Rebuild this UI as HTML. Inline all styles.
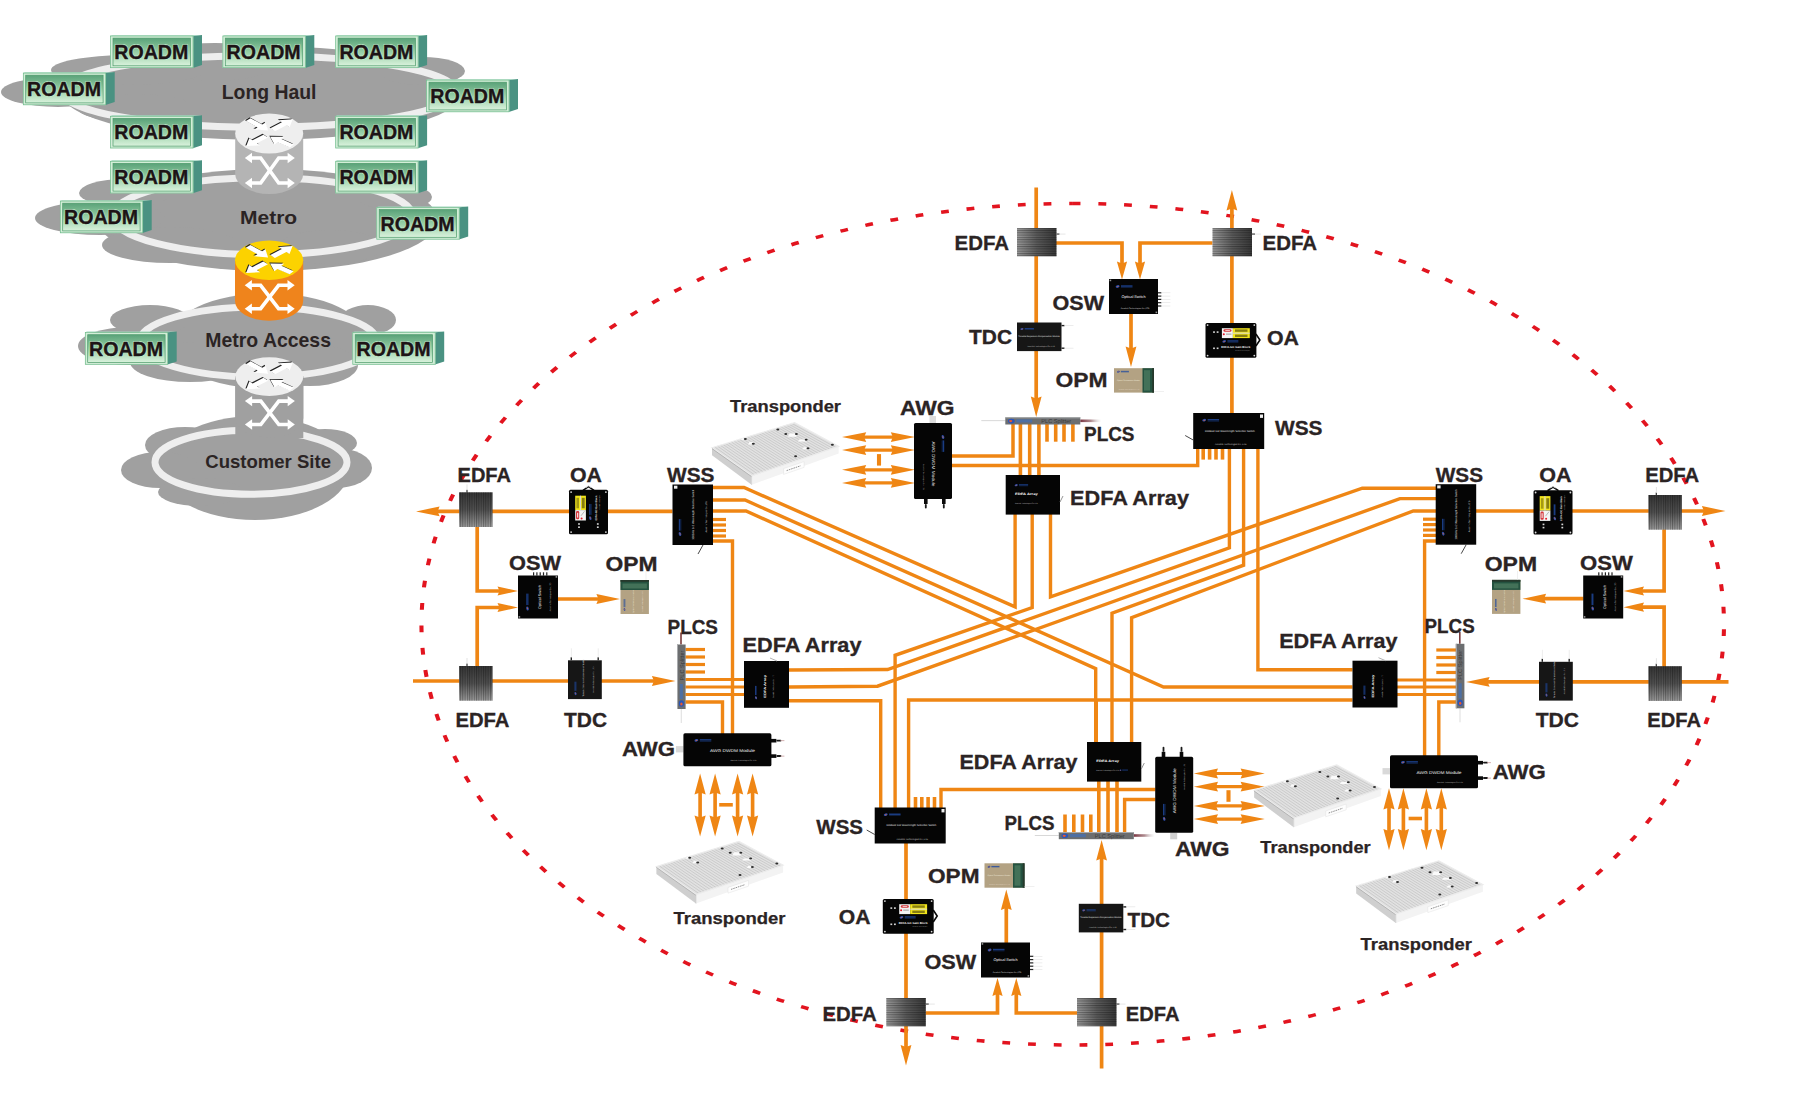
<!DOCTYPE html>
<html><head><meta charset="utf-8"><title>ROADM network diagram</title>
<style>
html,body{margin:0;padding:0;background:#fff;}
body{width:1800px;height:1095px;overflow:hidden;}
svg{display:block;font-family:"Liberation Sans","DejaVu Sans",sans-serif;}
</style></head><body>
<svg width="1800" height="1095" viewBox="0 0 1800 1095">
<rect width="1800" height="1095" fill="#fff"/>

<defs>
<linearGradient id="gR" x1="0" y1="0" x2="0" y2="1"><stop offset="0" stop-color="#5aa279"/><stop offset="0.45" stop-color="#8fcaa0"/><stop offset="1" stop-color="#d9f2dc"/></linearGradient>
<linearGradient id="gEv" x1="0" y1="0" x2="0" y2="1"><stop offset="0" stop-color="#363636"/><stop offset="0.5" stop-color="#525252"/><stop offset="1" stop-color="#9c9c9c"/></linearGradient>
<linearGradient id="gEh" x1="0" y1="0" x2="1" y2="0"><stop offset="0" stop-color="#9a9a9a"/><stop offset="0.5" stop-color="#5c5c5c"/><stop offset="1" stop-color="#383838"/></linearGradient>
<pattern id="pV" width="2.3" height="4" patternUnits="userSpaceOnUse"><rect width="1" height="4" fill="#000" opacity="0.3"/></pattern>
<pattern id="pH" width="4" height="2.3" patternUnits="userSpaceOnUse"><rect width="4" height="1" fill="#000" opacity="0.3"/></pattern>
<linearGradient id="gCylG" x1="0" y1="0" x2="1" y2="0"><stop offset="0" stop-color="#b0b0b0"/><stop offset="0.5" stop-color="#bcbcbc"/><stop offset="1" stop-color="#aaaaaa"/></linearGradient>
<linearGradient id="gTrTop" x1="0" y1="0" x2="1" y2="1"><stop offset="0" stop-color="#f1f1f1"/><stop offset="1" stop-color="#d9d9d9"/></linearGradient>
<pattern id="pTr" width="3.2" height="3.2" patternUnits="userSpaceOnUse" patternTransform="skewX(-55) rotate(-16)"><path d="M0 0H3.2M0 0V3.2" stroke="#bdbdbd" stroke-width="0.5" fill="none"/></pattern>
<linearGradient id="gFib" x1="0" y1="0" x2="1" y2="0"><stop offset="0" stop-color="#7a3340"/><stop offset="0.5" stop-color="#8d5a60" stop-opacity="0.7"/><stop offset="1" stop-color="#bbb" stop-opacity="0"/></linearGradient>
</defs>

<g id="clouds">
<ellipse cx="262" cy="93" rx="200" ry="47" fill="#a0a0a0" />
<ellipse cx="215" cy="62" rx="62" ry="19" fill="#a0a0a0" />
<ellipse cx="58" cy="92" rx="57" ry="15" fill="#a0a0a0" />
<ellipse cx="128" cy="70" rx="77" ry="15" fill="#a0a0a0" />
<ellipse cx="422" cy="71" rx="43" ry="14" fill="#a0a0a0" />
<ellipse cx="135" cy="108" rx="58" ry="14" fill="#a0a0a0" />
<ellipse cx="259" cy="91.5" rx="197" ry="35.8" fill="none" stroke="#eeeeee" stroke-width="7"/>
<ellipse cx="268" cy="220" rx="170" ry="51" fill="#a0a0a0" />
<ellipse cx="395" cy="197" rx="37" ry="13" fill="#a0a0a0" />
<ellipse cx="100" cy="218" rx="65" ry="17" fill="#a0a0a0" />
<ellipse cx="125" cy="193" rx="46" ry="14" fill="#a0a0a0" />
<ellipse cx="170" cy="245" rx="68" ry="18" fill="#a0a0a0" />
<ellipse cx="330" cy="247" rx="52" ry="17" fill="#a0a0a0" />
<ellipse cx="262.7" cy="216.2" rx="149.8" ry="38.5" fill="none" stroke="#eeeeee" stroke-width="7"/>
<ellipse cx="268" cy="341" rx="100" ry="48" fill="#a0a0a0" />
<ellipse cx="130" cy="346" rx="52" ry="19" fill="#a0a0a0" />
<ellipse cx="150" cy="320" rx="40" ry="15" fill="#a0a0a0" />
<ellipse cx="368" cy="320" rx="28" ry="15" fill="#a0a0a0" />
<ellipse cx="390" cy="348" rx="45" ry="16" fill="#a0a0a0" />
<ellipse cx="190" cy="362" rx="60" ry="20" fill="#a0a0a0" />
<ellipse cx="310" cy="365" rx="48" ry="21" fill="#a0a0a0" />
<ellipse cx="258.3" cy="342" rx="119" ry="35" fill="none" stroke="#eeeeee" stroke-width="7"/>
<ellipse cx="255" cy="468" rx="95" ry="52" fill="#a0a0a0" />
<ellipse cx="185" cy="445" rx="40" ry="18" fill="#a0a0a0" />
<ellipse cx="160" cy="470" rx="39" ry="18" fill="#a0a0a0" />
<ellipse cx="335" cy="468" rx="37" ry="20" fill="#a0a0a0" />
<ellipse cx="325" cy="443" rx="32" ry="14" fill="#a0a0a0" />
<ellipse cx="200" cy="492" rx="42" ry="14" fill="#a0a0a0" />
<ellipse cx="251" cy="462.3" rx="96" ry="32" fill="none" stroke="#eeeeee" stroke-width="7"/>
</g>
<path d="M235.2,133.5 V174 A34,19.9 0 0 0 303.2,174 V133.5 Z" fill="#b4b4b4"/>
<ellipse cx="269.2" cy="133.5" rx="34" ry="19.9" fill="#eeeeee"/>
<g fill="none" stroke="#fff" stroke-width="3.6" stroke-linejoin="miter"><path d="M251.2,158.0 H260.7 L278.7,183.0 H288.2"/><path d="M251.2,183.0 H260.7 L278.7,158.0 H288.2"/></g>
<polygon points="244.79999999999998,158.0 251.99999999999997,152.8 251.99999999999997,163.2" fill="#fff"/>
<polygon points="244.79999999999998,183.0 251.99999999999997,177.8 251.99999999999997,188.2" fill="#fff"/>
<polygon points="294.8,158.0 287.6,152.8 287.6,163.2" fill="#fff"/>
<polygon points="294.8,183.0 287.6,177.8 287.6,188.2" fill="#fff"/>
<g transform="translate(269.2 133.5) scale(1 0.58)">
<polygon points="-23.3,-21.5 -11.7,-10.5 -15.0,-7.0 -1.0,-5.0 -3.7,-18.9 -7.0,-15.4 -18.7,-26.5" fill="#222" transform="translate(-0.9 -1.5)"/>
<polygon points="5.8,-4.0 17.2,-14.3 20.4,-10.7 23.5,-24.5 9.5,-22.9 12.7,-19.3 1.2,-9.0" fill="#222" transform="translate(-0.9 -1.5)"/>
<polygon points="-5.8,2.0 -16.7,11.8 -19.9,8.2 -23.0,22.0 -9.0,20.4 -12.2,16.8 -1.2,7.0" fill="#222" transform="translate(-0.9 -1.5)"/>
<polygon points="24.5,18.8 12.3,9.6 15.1,5.8 1.0,5.5 5.3,18.9 8.2,15.1 20.5,24.2" fill="#222" transform="translate(-0.9 -1.5)"/>
<polygon points="-23.3,-21.5 -11.7,-10.5 -15.0,-7.0 -1.0,-5.0 -3.7,-18.9 -7.0,-15.4 -18.7,-26.5" fill="#fff"/>
<polygon points="5.8,-4.0 17.2,-14.3 20.4,-10.7 23.5,-24.5 9.5,-22.9 12.7,-19.3 1.2,-9.0" fill="#fff"/>
<polygon points="-5.8,2.0 -16.7,11.8 -19.9,8.2 -23.0,22.0 -9.0,20.4 -12.2,16.8 -1.2,7.0" fill="#fff"/>
<polygon points="24.5,18.8 12.3,9.6 15.1,5.8 1.0,5.5 5.3,18.9 8.2,15.1 20.5,24.2" fill="#fff"/>
</g>
<path d="M235.00000000000003,260.3 V301 A34.1,19.7 0 0 0 303.20000000000005,301 V260.3 Z" fill="#ef841c"/>
<ellipse cx="269.1" cy="260.3" rx="34.1" ry="19.7" fill="#fcd200"/>
<g fill="none" stroke="#fff" stroke-width="3.6" stroke-linejoin="miter"><path d="M251.10000000000002,285.3 H260.6 L278.6,308.7 H288.1"/><path d="M251.10000000000002,308.7 H260.6 L278.6,285.3 H288.1"/></g>
<polygon points="244.70000000000002,285.3 251.9,280.1 251.9,290.5" fill="#fff"/>
<polygon points="244.70000000000002,308.7 251.9,303.5 251.9,313.9" fill="#fff"/>
<polygon points="294.70000000000005,285.3 287.50000000000006,280.1 287.50000000000006,290.5" fill="#fff"/>
<polygon points="294.70000000000005,308.7 287.50000000000006,303.5 287.50000000000006,313.9" fill="#fff"/>
<g transform="translate(269.1 260.3) scale(1 0.58)">
<polygon points="-23.3,-21.5 -11.7,-10.5 -15.0,-7.0 -1.0,-5.0 -3.7,-18.9 -7.0,-15.4 -18.7,-26.5" fill="#222" transform="translate(-0.9 -1.5)"/>
<polygon points="5.8,-4.0 17.2,-14.3 20.4,-10.7 23.5,-24.5 9.5,-22.9 12.7,-19.3 1.2,-9.0" fill="#222" transform="translate(-0.9 -1.5)"/>
<polygon points="-5.8,2.0 -16.7,11.8 -19.9,8.2 -23.0,22.0 -9.0,20.4 -12.2,16.8 -1.2,7.0" fill="#222" transform="translate(-0.9 -1.5)"/>
<polygon points="24.5,18.8 12.3,9.6 15.1,5.8 1.0,5.5 5.3,18.9 8.2,15.1 20.5,24.2" fill="#222" transform="translate(-0.9 -1.5)"/>
<polygon points="-23.3,-21.5 -11.7,-10.5 -15.0,-7.0 -1.0,-5.0 -3.7,-18.9 -7.0,-15.4 -18.7,-26.5" fill="#fff"/>
<polygon points="5.8,-4.0 17.2,-14.3 20.4,-10.7 23.5,-24.5 9.5,-22.9 12.7,-19.3 1.2,-9.0" fill="#fff"/>
<polygon points="-5.8,2.0 -16.7,11.8 -19.9,8.2 -23.0,22.0 -9.0,20.4 -12.2,16.8 -1.2,7.0" fill="#fff"/>
<polygon points="24.5,18.8 12.3,9.6 15.1,5.8 1.0,5.5 5.3,18.9 8.2,15.1 20.5,24.2" fill="#fff"/>
</g>
<rect x="235.3" y="376" width="68" height="62" fill="#a0a0a0"/>
<path d="M235.3,376.6 V418 A34,19.4 0 0 0 303.3,418 V376.6 Z" fill="#a0a0a0"/>
<ellipse cx="269.3" cy="376.6" rx="34" ry="19.4" fill="#eeeeee"/>
<g fill="none" stroke="#fff" stroke-width="3.6" stroke-linejoin="miter"><path d="M251.3,401.1 H260.8 L278.8,424.5 H288.3"/><path d="M251.3,424.5 H260.8 L278.8,401.1 H288.3"/></g>
<polygon points="244.9,401.1 252.1,395.90000000000003 252.1,406.3" fill="#fff"/>
<polygon points="244.9,424.5 252.1,419.3 252.1,429.7" fill="#fff"/>
<polygon points="294.90000000000003,401.1 287.70000000000005,395.90000000000003 287.70000000000005,406.3" fill="#fff"/>
<polygon points="294.90000000000003,424.5 287.70000000000005,419.3 287.70000000000005,429.7" fill="#fff"/>
<g transform="translate(269.3 376.6) scale(1 0.58)">
<polygon points="-23.3,-21.5 -11.7,-10.5 -15.0,-7.0 -1.0,-5.0 -3.7,-18.9 -7.0,-15.4 -18.7,-26.5" fill="#222" transform="translate(-0.9 -1.5)"/>
<polygon points="5.8,-4.0 17.2,-14.3 20.4,-10.7 23.5,-24.5 9.5,-22.9 12.7,-19.3 1.2,-9.0" fill="#222" transform="translate(-0.9 -1.5)"/>
<polygon points="-5.8,2.0 -16.7,11.8 -19.9,8.2 -23.0,22.0 -9.0,20.4 -12.2,16.8 -1.2,7.0" fill="#222" transform="translate(-0.9 -1.5)"/>
<polygon points="24.5,18.8 12.3,9.6 15.1,5.8 1.0,5.5 5.3,18.9 8.2,15.1 20.5,24.2" fill="#222" transform="translate(-0.9 -1.5)"/>
<polygon points="-23.3,-21.5 -11.7,-10.5 -15.0,-7.0 -1.0,-5.0 -3.7,-18.9 -7.0,-15.4 -18.7,-26.5" fill="#fff"/>
<polygon points="5.8,-4.0 17.2,-14.3 20.4,-10.7 23.5,-24.5 9.5,-22.9 12.7,-19.3 1.2,-9.0" fill="#fff"/>
<polygon points="-5.8,2.0 -16.7,11.8 -19.9,8.2 -23.0,22.0 -9.0,20.4 -12.2,16.8 -1.2,7.0" fill="#fff"/>
<polygon points="24.5,18.8 12.3,9.6 15.1,5.8 1.0,5.5 5.3,18.9 8.2,15.1 20.5,24.2" fill="#fff"/>
</g>
<polygon points="192.8,35.7 202.0,34.900000000000006 202.0,65.0 192.8,68.0" fill="#4a9282"/>
<polygon points="110.3,35.7 112.3,34.900000000000006 202.0,34.900000000000006 193.3,35.7" fill="#9fd6bd"/>
<rect x="110.3" y="35.7" width="83" height="32.3" fill="#d3eed8"/>
<rect x="110.6" y="36.0" width="82.4" height="31.699999999999996" fill="none" stroke="#6fba8c" stroke-width="0.7"/>
<rect x="113.0" y="38.1" width="77.4" height="27.699999999999996" fill="url(#gR)" stroke="#4d9a6a" stroke-width="0.7"/>
<text x="114.3" y="59.1" font-size="20.5" font-weight="bold" fill="#c4f0cf" textLength="74" lengthAdjust="spacingAndGlyphs" stroke="#c4f0cf" stroke-width="1.8" stroke-linejoin="round" opacity="0.85">ROADM</text>
<text x="114.3" y="59.1" font-size="20.5" font-weight="bold" fill="#1d1416" stroke="#1d1416" stroke-width="0.45" textLength="74" lengthAdjust="spacingAndGlyphs">ROADM</text>
<polygon points="305.1,35.7 314.3,34.900000000000006 314.3,65.0 305.1,68.0" fill="#4a9282"/>
<polygon points="222.6,35.7 224.6,34.900000000000006 314.3,34.900000000000006 305.6,35.7" fill="#9fd6bd"/>
<rect x="222.6" y="35.7" width="83" height="32.3" fill="#d3eed8"/>
<rect x="222.9" y="36.0" width="82.4" height="31.699999999999996" fill="none" stroke="#6fba8c" stroke-width="0.7"/>
<rect x="225.29999999999998" y="38.1" width="77.4" height="27.699999999999996" fill="url(#gR)" stroke="#4d9a6a" stroke-width="0.7"/>
<text x="226.6" y="59.1" font-size="20.5" font-weight="bold" fill="#c4f0cf" textLength="74" lengthAdjust="spacingAndGlyphs" stroke="#c4f0cf" stroke-width="1.8" stroke-linejoin="round" opacity="0.85">ROADM</text>
<text x="226.6" y="59.1" font-size="20.5" font-weight="bold" fill="#1d1416" stroke="#1d1416" stroke-width="0.45" textLength="74" lengthAdjust="spacingAndGlyphs">ROADM</text>
<polygon points="417.9,35.7 427.09999999999997,34.900000000000006 427.09999999999997,65.0 417.9,68.0" fill="#4a9282"/>
<polygon points="335.4,35.7 337.4,34.900000000000006 427.09999999999997,34.900000000000006 418.4,35.7" fill="#9fd6bd"/>
<rect x="335.4" y="35.7" width="83" height="32.3" fill="#d3eed8"/>
<rect x="335.7" y="36.0" width="82.4" height="31.699999999999996" fill="none" stroke="#6fba8c" stroke-width="0.7"/>
<rect x="338.09999999999997" y="38.1" width="77.4" height="27.699999999999996" fill="url(#gR)" stroke="#4d9a6a" stroke-width="0.7"/>
<text x="339.4" y="59.1" font-size="20.5" font-weight="bold" fill="#c4f0cf" textLength="74" lengthAdjust="spacingAndGlyphs" stroke="#c4f0cf" stroke-width="1.8" stroke-linejoin="round" opacity="0.85">ROADM</text>
<text x="339.4" y="59.1" font-size="20.5" font-weight="bold" fill="#1d1416" stroke="#1d1416" stroke-width="0.45" textLength="74" lengthAdjust="spacingAndGlyphs">ROADM</text>
<polygon points="105.5,72.8 114.7,72.0 114.7,102.1 105.5,105.1" fill="#4a9282"/>
<polygon points="23,72.8 25,72.0 114.7,72.0 106,72.8" fill="#9fd6bd"/>
<rect x="23" y="72.8" width="83" height="32.3" fill="#d3eed8"/>
<rect x="23.3" y="73.1" width="82.4" height="31.699999999999996" fill="none" stroke="#6fba8c" stroke-width="0.7"/>
<rect x="25.7" y="75.2" width="77.4" height="27.699999999999996" fill="url(#gR)" stroke="#4d9a6a" stroke-width="0.7"/>
<text x="27" y="96.19999999999999" font-size="20.5" font-weight="bold" fill="#c4f0cf" textLength="74" lengthAdjust="spacingAndGlyphs" stroke="#c4f0cf" stroke-width="1.8" stroke-linejoin="round" opacity="0.85">ROADM</text>
<text x="27" y="96.19999999999999" font-size="20.5" font-weight="bold" fill="#1d1416" stroke="#1d1416" stroke-width="0.45" textLength="74" lengthAdjust="spacingAndGlyphs">ROADM</text>
<polygon points="508.8,79.8 518.0,79.0 518.0,109.1 508.8,112.1" fill="#4a9282"/>
<polygon points="426.3,79.8 428.3,79.0 518.0,79.0 509.3,79.8" fill="#9fd6bd"/>
<rect x="426.3" y="79.8" width="83" height="32.3" fill="#d3eed8"/>
<rect x="426.6" y="80.1" width="82.4" height="31.699999999999996" fill="none" stroke="#6fba8c" stroke-width="0.7"/>
<rect x="429.0" y="82.2" width="77.4" height="27.699999999999996" fill="url(#gR)" stroke="#4d9a6a" stroke-width="0.7"/>
<text x="430.3" y="103.19999999999999" font-size="20.5" font-weight="bold" fill="#c4f0cf" textLength="74" lengthAdjust="spacingAndGlyphs" stroke="#c4f0cf" stroke-width="1.8" stroke-linejoin="round" opacity="0.85">ROADM</text>
<text x="430.3" y="103.19999999999999" font-size="20.5" font-weight="bold" fill="#1d1416" stroke="#1d1416" stroke-width="0.45" textLength="74" lengthAdjust="spacingAndGlyphs">ROADM</text>
<polygon points="192.8,116 202.0,115.2 202.0,145.3 192.8,148.3" fill="#4a9282"/>
<polygon points="110.3,116 112.3,115.2 202.0,115.2 193.3,116" fill="#9fd6bd"/>
<rect x="110.3" y="116" width="83" height="32.3" fill="#d3eed8"/>
<rect x="110.6" y="116.3" width="82.4" height="31.699999999999996" fill="none" stroke="#6fba8c" stroke-width="0.7"/>
<rect x="113.0" y="118.4" width="77.4" height="27.699999999999996" fill="url(#gR)" stroke="#4d9a6a" stroke-width="0.7"/>
<text x="114.3" y="139.4" font-size="20.5" font-weight="bold" fill="#c4f0cf" textLength="74" lengthAdjust="spacingAndGlyphs" stroke="#c4f0cf" stroke-width="1.8" stroke-linejoin="round" opacity="0.85">ROADM</text>
<text x="114.3" y="139.4" font-size="20.5" font-weight="bold" fill="#1d1416" stroke="#1d1416" stroke-width="0.45" textLength="74" lengthAdjust="spacingAndGlyphs">ROADM</text>
<polygon points="417.9,116 427.09999999999997,115.2 427.09999999999997,145.3 417.9,148.3" fill="#4a9282"/>
<polygon points="335.4,116 337.4,115.2 427.09999999999997,115.2 418.4,116" fill="#9fd6bd"/>
<rect x="335.4" y="116" width="83" height="32.3" fill="#d3eed8"/>
<rect x="335.7" y="116.3" width="82.4" height="31.699999999999996" fill="none" stroke="#6fba8c" stroke-width="0.7"/>
<rect x="338.09999999999997" y="118.4" width="77.4" height="27.699999999999996" fill="url(#gR)" stroke="#4d9a6a" stroke-width="0.7"/>
<text x="339.4" y="139.4" font-size="20.5" font-weight="bold" fill="#c4f0cf" textLength="74" lengthAdjust="spacingAndGlyphs" stroke="#c4f0cf" stroke-width="1.8" stroke-linejoin="round" opacity="0.85">ROADM</text>
<text x="339.4" y="139.4" font-size="20.5" font-weight="bold" fill="#1d1416" stroke="#1d1416" stroke-width="0.45" textLength="74" lengthAdjust="spacingAndGlyphs">ROADM</text>
<polygon points="192.8,161 202.0,160.2 202.0,190.3 192.8,193.3" fill="#4a9282"/>
<polygon points="110.3,161 112.3,160.2 202.0,160.2 193.3,161" fill="#9fd6bd"/>
<rect x="110.3" y="161" width="83" height="32.3" fill="#d3eed8"/>
<rect x="110.6" y="161.3" width="82.4" height="31.699999999999996" fill="none" stroke="#6fba8c" stroke-width="0.7"/>
<rect x="113.0" y="163.4" width="77.4" height="27.699999999999996" fill="url(#gR)" stroke="#4d9a6a" stroke-width="0.7"/>
<text x="114.3" y="184.4" font-size="20.5" font-weight="bold" fill="#c4f0cf" textLength="74" lengthAdjust="spacingAndGlyphs" stroke="#c4f0cf" stroke-width="1.8" stroke-linejoin="round" opacity="0.85">ROADM</text>
<text x="114.3" y="184.4" font-size="20.5" font-weight="bold" fill="#1d1416" stroke="#1d1416" stroke-width="0.45" textLength="74" lengthAdjust="spacingAndGlyphs">ROADM</text>
<polygon points="417.9,161 427.09999999999997,160.2 427.09999999999997,190.3 417.9,193.3" fill="#4a9282"/>
<polygon points="335.4,161 337.4,160.2 427.09999999999997,160.2 418.4,161" fill="#9fd6bd"/>
<rect x="335.4" y="161" width="83" height="32.3" fill="#d3eed8"/>
<rect x="335.7" y="161.3" width="82.4" height="31.699999999999996" fill="none" stroke="#6fba8c" stroke-width="0.7"/>
<rect x="338.09999999999997" y="163.4" width="77.4" height="27.699999999999996" fill="url(#gR)" stroke="#4d9a6a" stroke-width="0.7"/>
<text x="339.4" y="184.4" font-size="20.5" font-weight="bold" fill="#c4f0cf" textLength="74" lengthAdjust="spacingAndGlyphs" stroke="#c4f0cf" stroke-width="1.8" stroke-linejoin="round" opacity="0.85">ROADM</text>
<text x="339.4" y="184.4" font-size="20.5" font-weight="bold" fill="#1d1416" stroke="#1d1416" stroke-width="0.45" textLength="74" lengthAdjust="spacingAndGlyphs">ROADM</text>
<polygon points="142.5,200.8 151.7,200.0 151.7,230.10000000000002 142.5,233.10000000000002" fill="#4a9282"/>
<polygon points="60,200.8 62,200.0 151.7,200.0 143,200.8" fill="#9fd6bd"/>
<rect x="60" y="200.8" width="83" height="32.3" fill="#d3eed8"/>
<rect x="60.3" y="201.10000000000002" width="82.4" height="31.699999999999996" fill="none" stroke="#6fba8c" stroke-width="0.7"/>
<rect x="62.7" y="203.20000000000002" width="77.4" height="27.699999999999996" fill="url(#gR)" stroke="#4d9a6a" stroke-width="0.7"/>
<text x="64" y="224.20000000000002" font-size="20.5" font-weight="bold" fill="#c4f0cf" textLength="74" lengthAdjust="spacingAndGlyphs" stroke="#c4f0cf" stroke-width="1.8" stroke-linejoin="round" opacity="0.85">ROADM</text>
<text x="64" y="224.20000000000002" font-size="20.5" font-weight="bold" fill="#1d1416" stroke="#1d1416" stroke-width="0.45" textLength="74" lengthAdjust="spacingAndGlyphs">ROADM</text>
<polygon points="459.0,207.2 468.2,206.39999999999998 468.2,236.5 459.0,239.5" fill="#4a9282"/>
<polygon points="376.5,207.2 378.5,206.39999999999998 468.2,206.39999999999998 459.5,207.2" fill="#9fd6bd"/>
<rect x="376.5" y="207.2" width="83" height="32.3" fill="#d3eed8"/>
<rect x="376.8" y="207.5" width="82.4" height="31.699999999999996" fill="none" stroke="#6fba8c" stroke-width="0.7"/>
<rect x="379.2" y="209.6" width="77.4" height="27.699999999999996" fill="url(#gR)" stroke="#4d9a6a" stroke-width="0.7"/>
<text x="380.5" y="230.6" font-size="20.5" font-weight="bold" fill="#c4f0cf" textLength="74" lengthAdjust="spacingAndGlyphs" stroke="#c4f0cf" stroke-width="1.8" stroke-linejoin="round" opacity="0.85">ROADM</text>
<text x="380.5" y="230.6" font-size="20.5" font-weight="bold" fill="#1d1416" stroke="#1d1416" stroke-width="0.45" textLength="74" lengthAdjust="spacingAndGlyphs">ROADM</text>
<polygon points="167.5,332.3 176.7,331.5 176.7,361.6 167.5,364.6" fill="#4a9282"/>
<polygon points="85,332.3 87,331.5 176.7,331.5 168,332.3" fill="#9fd6bd"/>
<rect x="85" y="332.3" width="83" height="32.3" fill="#d3eed8"/>
<rect x="85.3" y="332.6" width="82.4" height="31.699999999999996" fill="none" stroke="#6fba8c" stroke-width="0.7"/>
<rect x="87.7" y="334.7" width="77.4" height="27.699999999999996" fill="url(#gR)" stroke="#4d9a6a" stroke-width="0.7"/>
<text x="89" y="355.7" font-size="20.5" font-weight="bold" fill="#c4f0cf" textLength="74" lengthAdjust="spacingAndGlyphs" stroke="#c4f0cf" stroke-width="1.8" stroke-linejoin="round" opacity="0.85">ROADM</text>
<text x="89" y="355.7" font-size="20.5" font-weight="bold" fill="#1d1416" stroke="#1d1416" stroke-width="0.45" textLength="74" lengthAdjust="spacingAndGlyphs">ROADM</text>
<polygon points="435.0,332.3 444.2,331.5 444.2,361.6 435.0,364.6" fill="#4a9282"/>
<polygon points="352.5,332.3 354.5,331.5 444.2,331.5 435.5,332.3" fill="#9fd6bd"/>
<rect x="352.5" y="332.3" width="83" height="32.3" fill="#d3eed8"/>
<rect x="352.8" y="332.6" width="82.4" height="31.699999999999996" fill="none" stroke="#6fba8c" stroke-width="0.7"/>
<rect x="355.2" y="334.7" width="77.4" height="27.699999999999996" fill="url(#gR)" stroke="#4d9a6a" stroke-width="0.7"/>
<text x="356.5" y="355.7" font-size="20.5" font-weight="bold" fill="#c4f0cf" textLength="74" lengthAdjust="spacingAndGlyphs" stroke="#c4f0cf" stroke-width="1.8" stroke-linejoin="round" opacity="0.85">ROADM</text>
<text x="356.5" y="355.7" font-size="20.5" font-weight="bold" fill="#1d1416" stroke="#1d1416" stroke-width="0.45" textLength="74" lengthAdjust="spacingAndGlyphs">ROADM</text>
<text x="221.7" y="99" font-size="20.5" font-weight="bold" fill="#2b2424" text-anchor="start" textLength="94.8" lengthAdjust="spacingAndGlyphs" >Long Haul</text>
<text x="240" y="223.8" font-size="19.2" font-weight="bold" fill="#2b2424" text-anchor="start" textLength="57.2" lengthAdjust="spacingAndGlyphs" >Metro</text>
<text x="205.3" y="347" font-size="19.3" font-weight="bold" fill="#2b2424" text-anchor="start" textLength="125.7" lengthAdjust="spacingAndGlyphs" >Metro Access</text>
<text x="205.3" y="467.8" font-size="18.5" font-weight="bold" fill="#2b2424" text-anchor="start" textLength="125.7" lengthAdjust="spacingAndGlyphs" >Customer Site</text>
<g transform="translate(1072.75 624.25) scale(1.147 1)"><path d="M0,-420.75 A567.8,420.75 0 1 1 -0.05,-420.75" fill="none" stroke="#e2141f" stroke-width="3.55" stroke-dasharray="6.8 15.64"/></g>
<g id="lines">
<polyline points="672.5,511.4 431.0,511.4" fill="none" stroke="#ef8614" stroke-width="3.7" stroke-linejoin="miter"/>
<polygon points="416.0,511.4 439.6,506.5 437.6,511.4 439.6,516.3" fill="#ef8614"/>
<polyline points="413,681 660.5,681.0" fill="none" stroke="#ef8614" stroke-width="3.7" stroke-linejoin="miter"/>
<polygon points="675.5,681.0 651.9,685.9 653.9,681.0 651.9,676.1" fill="#ef8614"/>
<polyline points="477.2,527 477.2,591 503.0,591.0" fill="none" stroke="#ef8614" stroke-width="3.7" stroke-linejoin="miter"/>
<polygon points="518.0,591.0 497.5,595.6 499.5,591.0 497.5,586.4" fill="#ef8614"/>
<polyline points="477.2,667 477.2,607.5 503.0,607.5" fill="none" stroke="#ef8614" stroke-width="3.7" stroke-linejoin="miter"/>
<polygon points="518.0,607.5 497.5,612.1 499.5,607.5 497.5,602.9" fill="#ef8614"/>
<polyline points="558,599 605.0,599.0" fill="none" stroke="#ef8614" stroke-width="3.7" stroke-linejoin="miter"/>
<polygon points="620.0,599.0 596.4,603.9 598.4,599.0 596.4,594.1" fill="#ef8614"/>
<polyline points="713,487.5 744,487.5 1015.1,606.8 1015.1,514" fill="none" stroke="#ef8614" stroke-width="3.4" stroke-linejoin="miter"/>
<polyline points="713,500 745,500 1163.5,687 1352.5,687" fill="none" stroke="#ef8614" stroke-width="3.4" stroke-linejoin="miter"/>
<polyline points="713,511 746,511 1095.7,668.6 1095.7,742" fill="none" stroke="#ef8614" stroke-width="3.4" stroke-linejoin="miter"/>
<polyline points="713,519.5 726,519.5" fill="none" stroke="#ef8614" stroke-width="3.2" stroke-linejoin="miter"/>
<polyline points="713,525 726,525" fill="none" stroke="#ef8614" stroke-width="3.2" stroke-linejoin="miter"/>
<polyline points="713,530.5 726,530.5" fill="none" stroke="#ef8614" stroke-width="3.2" stroke-linejoin="miter"/>
<polyline points="713,536 726,536" fill="none" stroke="#ef8614" stroke-width="3.2" stroke-linejoin="miter"/>
<polyline points="713,541 732.5,541 732.5,734" fill="none" stroke="#ef8614" stroke-width="3.4" stroke-linejoin="miter"/>
<polyline points="685.5,649.5 705,649.5" fill="none" stroke="#ef8614" stroke-width="3.2" stroke-linejoin="miter"/>
<polyline points="685.5,657 705,657" fill="none" stroke="#ef8614" stroke-width="3.2" stroke-linejoin="miter"/>
<polyline points="685.5,664.5 705,664.5" fill="none" stroke="#ef8614" stroke-width="3.2" stroke-linejoin="miter"/>
<polyline points="685.5,672 705,672" fill="none" stroke="#ef8614" stroke-width="3.2" stroke-linejoin="miter"/>
<polyline points="685.5,679.5 744,679.5" fill="none" stroke="#ef8614" stroke-width="3.2" stroke-linejoin="miter"/>
<polyline points="685.5,687 744,687" fill="none" stroke="#ef8614" stroke-width="3.2" stroke-linejoin="miter"/>
<polyline points="685.5,694.5 744,694.5" fill="none" stroke="#ef8614" stroke-width="3.2" stroke-linejoin="miter"/>
<polyline points="685.5,702 722.5,702 722.5,734" fill="none" stroke="#ef8614" stroke-width="3.4" stroke-linejoin="miter"/>
<polyline points="789,670 887.6,669.5 1229.4,547.9 1229.4,448.7" fill="none" stroke="#ef8614" stroke-width="3.4" stroke-linejoin="miter"/>
<polyline points="789,687 877.5,686.2 1399.9,498.6 1436,498.6" fill="none" stroke="#ef8614" stroke-width="3.4" stroke-linejoin="miter"/>
<polyline points="789,700.8 880.7,700.8 880.7,808" fill="none" stroke="#ef8614" stroke-width="3.4" stroke-linejoin="miter"/>
<polyline points="1036.2,187.5 1036.2,330" fill="none" stroke="#ef8614" stroke-width="3.7" stroke-linejoin="miter"/>
<polyline points="1036.2,345 1036.2,402.0" fill="none" stroke="#ef8614" stroke-width="3.7" stroke-linejoin="miter"/>
<polygon points="1036.2,417.0 1030.8,396.4 1036.2,398.4 1041.6,396.4" fill="#ef8614"/>
<polyline points="1231.9,413 1231.9,205.0" fill="none" stroke="#ef8614" stroke-width="3.7" stroke-linejoin="miter"/>
<polygon points="1231.9,190.0 1237.3,210.6 1231.9,208.6 1226.5,210.6" fill="#ef8614"/>
<polyline points="1056,243 1122,243 1122.0,264.5" fill="none" stroke="#ef8614" stroke-width="3.7" stroke-linejoin="miter"/>
<polygon points="1122.0,279.5 1116.9,261.6 1122.0,263.6 1127.1,261.6" fill="#ef8614"/>
<polyline points="1212.5,243 1140,243 1140.0,264.5" fill="none" stroke="#ef8614" stroke-width="3.7" stroke-linejoin="miter"/>
<polygon points="1140.0,279.5 1134.9,261.6 1140.0,263.6 1145.1,261.6" fill="#ef8614"/>
<polyline points="1131,314 1131.0,352.0" fill="none" stroke="#ef8614" stroke-width="3.7" stroke-linejoin="miter"/>
<polygon points="1131.0,367.0 1125.6,346.4 1131.0,348.4 1136.4,346.4" fill="#ef8614"/>
<polyline points="1013,424 1013,456 952,456" fill="none" stroke="#ef8614" stroke-width="3.5" stroke-linejoin="miter"/>
<polyline points="1020.4,424 1020.4,476" fill="none" stroke="#ef8614" stroke-width="3.6" stroke-linejoin="miter"/>
<polyline points="1029.7,424 1029.7,476" fill="none" stroke="#ef8614" stroke-width="3.6" stroke-linejoin="miter"/>
<polyline points="1038.9,424 1038.9,476" fill="none" stroke="#ef8614" stroke-width="3.6" stroke-linejoin="miter"/>
<polyline points="1047,424 1047,441.7" fill="none" stroke="#ef8614" stroke-width="3.6" stroke-linejoin="miter"/>
<polyline points="1055.7,424 1055.7,441.7" fill="none" stroke="#ef8614" stroke-width="3.6" stroke-linejoin="miter"/>
<polyline points="1064,424 1064,441.7" fill="none" stroke="#ef8614" stroke-width="3.6" stroke-linejoin="miter"/>
<polyline points="1072.9,424 1072.9,441.7" fill="none" stroke="#ef8614" stroke-width="3.6" stroke-linejoin="miter"/>
<polyline points="952,465.5 1197.7,465.5 1197.7,448" fill="none" stroke="#ef8614" stroke-width="3.4" stroke-linejoin="miter"/>
<polyline points="1203.2,448 1203.2,459.6" fill="none" stroke="#ef8614" stroke-width="3.6" stroke-linejoin="miter"/>
<polyline points="1209.6,448 1209.6,459.6" fill="none" stroke="#ef8614" stroke-width="3.6" stroke-linejoin="miter"/>
<polyline points="1216,448 1216,459.6" fill="none" stroke="#ef8614" stroke-width="3.6" stroke-linejoin="miter"/>
<polyline points="1222.5,448 1222.5,459.6" fill="none" stroke="#ef8614" stroke-width="3.6" stroke-linejoin="miter"/>
<polyline points="1032.2,514 1032.2,607.6 895.1,655.3 895.1,808" fill="none" stroke="#ef8614" stroke-width="3.4" stroke-linejoin="miter"/>
<polyline points="1050.5,514 1050.5,596.8 1362.3,488.2 1436,488.2" fill="none" stroke="#ef8614" stroke-width="3.4" stroke-linejoin="miter"/>
<polyline points="1243.6,448 1243.6,565.2 1112,613.2 1112,742" fill="none" stroke="#ef8614" stroke-width="3.4" stroke-linejoin="miter"/>
<polyline points="1257.9,448 1257.9,669.8 1352.5,669.8" fill="none" stroke="#ef8614" stroke-width="3.4" stroke-linejoin="miter"/>
<polyline points="1476,511 1710.5,511.0" fill="none" stroke="#ef8614" stroke-width="3.7" stroke-linejoin="miter"/>
<polygon points="1725.5,511.0 1701.9,515.9 1703.9,511.0 1701.9,506.1" fill="#ef8614"/>
<polyline points="1728.5,681.9 1572,681.9" fill="none" stroke="#ef8614" stroke-width="3.7" stroke-linejoin="miter"/>
<polyline points="1540,681.9 1481.0,681.9" fill="none" stroke="#ef8614" stroke-width="3.7" stroke-linejoin="miter"/>
<polygon points="1466.0,681.9 1489.6,677.0 1487.6,681.9 1489.6,686.8" fill="#ef8614"/>
<polyline points="1664.1,529 1664.1,591 1638.5,591.0" fill="none" stroke="#ef8614" stroke-width="3.7" stroke-linejoin="miter"/>
<polygon points="1623.5,591.0 1644.0,586.4 1642.0,591.0 1644.0,595.6" fill="#ef8614"/>
<polyline points="1664.1,667 1664.1,607.2 1638.5,607.2" fill="none" stroke="#ef8614" stroke-width="3.7" stroke-linejoin="miter"/>
<polygon points="1623.5,607.2 1644.0,602.6 1642.0,607.2 1644.0,611.8" fill="#ef8614"/>
<polyline points="1583.5,598.7 1537.5,598.7" fill="none" stroke="#ef8614" stroke-width="3.7" stroke-linejoin="miter"/>
<polygon points="1522.5,598.7 1546.1,593.8 1544.1,598.7 1546.1,603.6" fill="#ef8614"/>
<polyline points="1436,511 1413.3,511 1131.6,617.7 1131.6,742" fill="none" stroke="#ef8614" stroke-width="3.4" stroke-linejoin="miter"/>
<polyline points="1423,519.2 1436,519.2" fill="none" stroke="#ef8614" stroke-width="3.2" stroke-linejoin="miter"/>
<polyline points="1423,524.6 1436,524.6" fill="none" stroke="#ef8614" stroke-width="3.2" stroke-linejoin="miter"/>
<polyline points="1423,530 1436,530" fill="none" stroke="#ef8614" stroke-width="3.2" stroke-linejoin="miter"/>
<polyline points="1423,535.4 1436,535.4" fill="none" stroke="#ef8614" stroke-width="3.2" stroke-linejoin="miter"/>
<polyline points="1436,541 1424.6,541 1424.6,756" fill="none" stroke="#ef8614" stroke-width="3.4" stroke-linejoin="miter"/>
<polyline points="1436.3,650 1456,650" fill="none" stroke="#ef8614" stroke-width="3.2" stroke-linejoin="miter"/>
<polyline points="1436.3,657.5 1456,657.5" fill="none" stroke="#ef8614" stroke-width="3.2" stroke-linejoin="miter"/>
<polyline points="1436.3,665 1456,665" fill="none" stroke="#ef8614" stroke-width="3.2" stroke-linejoin="miter"/>
<polyline points="1436.3,672.5 1456,672.5" fill="none" stroke="#ef8614" stroke-width="3.2" stroke-linejoin="miter"/>
<polyline points="1397,680 1456,680" fill="none" stroke="#ef8614" stroke-width="3.2" stroke-linejoin="miter"/>
<polyline points="1397,687 1456,687" fill="none" stroke="#ef8614" stroke-width="3.2" stroke-linejoin="miter"/>
<polyline points="1397,694.5 1456,694.5" fill="none" stroke="#ef8614" stroke-width="3.2" stroke-linejoin="miter"/>
<polyline points="1456,702 1438.8,702 1438.8,756" fill="none" stroke="#ef8614" stroke-width="3.4" stroke-linejoin="miter"/>
<polyline points="1352.5,700 908.6,700 908.6,808" fill="none" stroke="#ef8614" stroke-width="3.4" stroke-linejoin="miter"/>
<polyline points="906,843 906.0,1050.5" fill="none" stroke="#ef8614" stroke-width="3.7" stroke-linejoin="miter"/>
<polygon points="906.0,1065.5 900.6,1044.9 906.0,1046.9 911.4,1044.9" fill="#ef8614"/>
<polyline points="1101.6,1068.5 1101.6,932" fill="none" stroke="#ef8614" stroke-width="3.7" stroke-linejoin="miter"/>
<polyline points="1101.6,905 1101.6,855.0" fill="none" stroke="#ef8614" stroke-width="3.7" stroke-linejoin="miter"/>
<polygon points="1101.6,840.0 1107.0,860.6 1101.6,858.6 1096.2,860.6" fill="#ef8614"/>
<polyline points="925.5,1013 997.5,1013 997.5,993.0" fill="none" stroke="#ef8614" stroke-width="3.7" stroke-linejoin="miter"/>
<polygon points="997.5,978.0 1002.6,995.9 997.5,993.9 992.4,995.9" fill="#ef8614"/>
<polyline points="1077,1013 1016.3,1013 1016.3,993.0" fill="none" stroke="#ef8614" stroke-width="3.7" stroke-linejoin="miter"/>
<polygon points="1016.3,978.0 1021.4,995.9 1016.3,993.9 1011.2,995.9" fill="#ef8614"/>
<polyline points="1006.3,943 1006.3,904.5" fill="none" stroke="#ef8614" stroke-width="3.7" stroke-linejoin="miter"/>
<polygon points="1006.3,889.5 1011.7,910.1 1006.3,908.1 1000.9,910.1" fill="#ef8614"/>
<polyline points="915.5,797 915.5,808" fill="none" stroke="#ef8614" stroke-width="3.6" stroke-linejoin="miter"/>
<polyline points="921.8,797 921.8,808" fill="none" stroke="#ef8614" stroke-width="3.6" stroke-linejoin="miter"/>
<polyline points="928.1,797 928.1,808" fill="none" stroke="#ef8614" stroke-width="3.6" stroke-linejoin="miter"/>
<polyline points="934.5,797 934.5,808" fill="none" stroke="#ef8614" stroke-width="3.6" stroke-linejoin="miter"/>
<polyline points="941,808 941,789.5 1155.5,789.5" fill="none" stroke="#ef8614" stroke-width="3.4" stroke-linejoin="miter"/>
<polyline points="1098.8,780 1098.8,832.5" fill="none" stroke="#ef8614" stroke-width="3.6" stroke-linejoin="miter"/>
<polyline points="1108,780 1108,832.5" fill="none" stroke="#ef8614" stroke-width="3.6" stroke-linejoin="miter"/>
<polyline points="1117,780 1117,832.5" fill="none" stroke="#ef8614" stroke-width="3.6" stroke-linejoin="miter"/>
<polyline points="1124.6,832.5 1124.6,799.5 1155.5,799.5" fill="none" stroke="#ef8614" stroke-width="3.4" stroke-linejoin="miter"/>
<polyline points="1065,814.5 1065,832.5" fill="none" stroke="#ef8614" stroke-width="3.6" stroke-linejoin="miter"/>
<polyline points="1073.8,814.5 1073.8,832.5" fill="none" stroke="#ef8614" stroke-width="3.6" stroke-linejoin="miter"/>
<polyline points="1082.5,814.5 1082.5,832.5" fill="none" stroke="#ef8614" stroke-width="3.6" stroke-linejoin="miter"/>
<polyline points="1090.8,814.5 1090.8,832.5" fill="none" stroke="#ef8614" stroke-width="3.6" stroke-linejoin="miter"/>
<polyline points="1096.3,742 1096.3,700" fill="none" stroke="#ef8614" stroke-width="3.4" stroke-linejoin="miter"/>
<polyline points="859.0,437.1 898.0,437.1" fill="none" stroke="#ef8614" stroke-width="3.2" stroke-linejoin="miter"/>
<polygon points="915.0,437.1 890.8,442.0 892.8,437.1 890.8,432.2" fill="#ef8614"/>
<polygon points="842.0,437.1 866.2,432.2 864.2,437.1 866.2,442.0" fill="#ef8614"/>
<polyline points="859.0,450.1 898.0,450.1" fill="none" stroke="#ef8614" stroke-width="3.2" stroke-linejoin="miter"/>
<polygon points="915.0,450.1 890.8,455.0 892.8,450.1 890.8,445.2" fill="#ef8614"/>
<polygon points="842.0,450.1 866.2,445.2 864.2,450.1 866.2,455.0" fill="#ef8614"/>
<polyline points="859.0,469.8 898.0,469.8" fill="none" stroke="#ef8614" stroke-width="3.2" stroke-linejoin="miter"/>
<polygon points="915.0,469.8 890.8,474.7 892.8,469.8 890.8,464.9" fill="#ef8614"/>
<polygon points="842.0,469.8 866.2,464.9 864.2,469.8 866.2,474.7" fill="#ef8614"/>
<polyline points="859.0,482.9 898.0,482.9" fill="none" stroke="#ef8614" stroke-width="3.2" stroke-linejoin="miter"/>
<polygon points="915.0,482.9 890.8,487.8 892.8,482.9 890.8,478.0" fill="#ef8614"/>
<polygon points="842.0,482.9 866.2,478.0 864.2,482.9 866.2,487.8" fill="#ef8614"/>
<polyline points="879,454.1 879,465.6" fill="none" stroke="#ef8614" stroke-width="4.1" stroke-linejoin="miter"/>
<polyline points="700.1,790.4 700.1,819.6" fill="none" stroke="#ef8614" stroke-width="3.65" stroke-linejoin="miter"/>
<polygon points="700.1,836.6 694.5,815.4 700.1,817.4 705.7,815.4" fill="#ef8614"/>
<polygon points="700.1,773.4 705.7,794.6 700.1,792.6 694.5,794.6" fill="#ef8614"/>
<polyline points="715.1,790.4 715.1,819.6" fill="none" stroke="#ef8614" stroke-width="3.65" stroke-linejoin="miter"/>
<polygon points="715.1,836.6 709.5,815.4 715.1,817.4 720.7,815.4" fill="#ef8614"/>
<polygon points="715.1,773.4 720.7,794.6 715.1,792.6 709.5,794.6" fill="#ef8614"/>
<polyline points="737.6,790.4 737.6,819.6" fill="none" stroke="#ef8614" stroke-width="3.65" stroke-linejoin="miter"/>
<polygon points="737.6,836.6 732.0,815.4 737.6,817.4 743.2,815.4" fill="#ef8614"/>
<polygon points="737.6,773.4 743.2,794.6 737.6,792.6 732.0,794.6" fill="#ef8614"/>
<polyline points="752.6,790.4 752.6,819.6" fill="none" stroke="#ef8614" stroke-width="3.65" stroke-linejoin="miter"/>
<polygon points="752.6,836.6 747.0,815.4 752.6,817.4 758.2,815.4" fill="#ef8614"/>
<polygon points="752.6,773.4 758.2,794.6 752.6,792.6 747.0,794.6" fill="#ef8614"/>
<polyline points="719.2,804.8 732.8,804.8" fill="none" stroke="#ef8614" stroke-width="3.6" stroke-linejoin="miter"/>
<polyline points="1210.8,773.5 1247.8,773.5" fill="none" stroke="#ef8614" stroke-width="3.2" stroke-linejoin="miter"/>
<polygon points="1264.8,773.5 1240.6,778.4 1242.6,773.5 1240.6,768.6" fill="#ef8614"/>
<polygon points="1193.8,773.5 1218.0,768.6 1216.0,773.5 1218.0,778.4" fill="#ef8614"/>
<polyline points="1210.8,786.7 1247.8,786.7" fill="none" stroke="#ef8614" stroke-width="3.2" stroke-linejoin="miter"/>
<polygon points="1264.8,786.7 1240.6,791.6 1242.6,786.7 1240.6,781.8" fill="#ef8614"/>
<polygon points="1193.8,786.7 1218.0,781.8 1216.0,786.7 1218.0,791.6" fill="#ef8614"/>
<polyline points="1210.8,805.9 1247.8,805.9" fill="none" stroke="#ef8614" stroke-width="3.2" stroke-linejoin="miter"/>
<polygon points="1264.8,805.9 1240.6,810.8 1242.6,805.9 1240.6,801.0" fill="#ef8614"/>
<polygon points="1193.8,805.9 1218.0,801.0 1216.0,805.9 1218.0,810.8" fill="#ef8614"/>
<polyline points="1210.8,819.1 1247.8,819.1" fill="none" stroke="#ef8614" stroke-width="3.2" stroke-linejoin="miter"/>
<polygon points="1264.8,819.1 1240.6,824.0 1242.6,819.1 1240.6,814.2" fill="#ef8614"/>
<polygon points="1193.8,819.1 1218.0,814.2 1216.0,819.1 1218.0,824.0" fill="#ef8614"/>
<polyline points="1228.5,790.2 1228.5,801.8" fill="none" stroke="#ef8614" stroke-width="4.1" stroke-linejoin="miter"/>
<polyline points="1389.0,805.3 1389.0,833.3" fill="none" stroke="#ef8614" stroke-width="3.65" stroke-linejoin="miter"/>
<polygon points="1389.0,850.3 1383.4,829.1 1389.0,831.1 1394.6,829.1" fill="#ef8614"/>
<polygon points="1389.0,788.3 1394.6,809.5 1389.0,807.5 1383.4,809.5" fill="#ef8614"/>
<polyline points="1403.4,805.3 1403.4,833.3" fill="none" stroke="#ef8614" stroke-width="3.65" stroke-linejoin="miter"/>
<polygon points="1403.4,850.3 1397.8,829.1 1403.4,831.1 1409.0,829.1" fill="#ef8614"/>
<polygon points="1403.4,788.3 1409.0,809.5 1403.4,807.5 1397.8,809.5" fill="#ef8614"/>
<polyline points="1426.4,805.3 1426.4,833.3" fill="none" stroke="#ef8614" stroke-width="3.65" stroke-linejoin="miter"/>
<polygon points="1426.4,850.3 1420.8,829.1 1426.4,831.1 1432.0,829.1" fill="#ef8614"/>
<polygon points="1426.4,788.3 1432.0,809.5 1426.4,807.5 1420.8,809.5" fill="#ef8614"/>
<polyline points="1441.3,805.3 1441.3,833.3" fill="none" stroke="#ef8614" stroke-width="3.65" stroke-linejoin="miter"/>
<polygon points="1441.3,850.3 1435.7,829.1 1441.3,831.1 1446.9,829.1" fill="#ef8614"/>
<polygon points="1441.3,788.3 1446.9,809.5 1441.3,807.5 1435.7,809.5" fill="#ef8614"/>
<polyline points="1408.6,818.5 1422,818.5" fill="none" stroke="#ef8614" stroke-width="3.6" stroke-linejoin="miter"/>
</g>
<g id="devices">
<rect x="459.1" y="492.3" width="33.4" height="34.7" fill="url(#gEv)"/>
<rect x="459.1" y="492.3" width="33.4" height="34.7" fill="url(#pV)"/>
<rect x="466.40000000000003" y="489.8" width="1.2" height="3" fill="#333"/>
<rect x="466.6" y="484.3" width="0.8" height="6" fill="#ddd"/>
<rect x="459.1" y="666" width="33.4" height="34.7" fill="url(#gEv)"/>
<rect x="459.1" y="666" width="33.4" height="34.7" fill="url(#pV)"/>
<rect x="466.40000000000003" y="663.5" width="1.2" height="3" fill="#333"/>
<rect x="466.6" y="658" width="0.8" height="6" fill="#ddd"/>
<rect x="1648.4" y="495" width="33.4" height="34.7" fill="url(#gEv)"/>
<rect x="1648.4" y="495" width="33.4" height="34.7" fill="url(#pV)"/>
<rect x="1655.7" y="492.5" width="1.2" height="3" fill="#333"/>
<rect x="1655.9" y="487" width="0.8" height="6" fill="#ddd"/>
<rect x="1648.4" y="666.2" width="33.4" height="34.7" fill="url(#gEv)"/>
<rect x="1648.4" y="666.2" width="33.4" height="34.7" fill="url(#pV)"/>
<rect x="1655.7" y="663.7" width="1.2" height="3" fill="#333"/>
<rect x="1655.9" y="658.2" width="0.8" height="6" fill="#ddd"/>
<rect x="1017" y="228" width="39.5" height="28.3" fill="url(#gEh)"/>
<rect x="1017" y="228" width="39.5" height="28.3" fill="url(#pH)"/>
<rect x="1056.5" y="233.5" width="3" height="1.1" fill="#333"/>
<rect x="1059.5" y="233.7" width="6" height="0.7" fill="#ddd"/>
<rect x="1212.5" y="228" width="39.5" height="28.3" fill="url(#gEh)"/>
<rect x="1212.5" y="228" width="39.5" height="28.3" fill="url(#pH)"/>
<rect x="1252.0" y="233.5" width="3" height="1.1" fill="#333"/>
<rect x="1255.0" y="233.7" width="6" height="0.7" fill="#ddd"/>
<rect x="886.3" y="998" width="39.5" height="28.3" fill="url(#gEh)"/>
<rect x="886.3" y="998" width="39.5" height="28.3" fill="url(#pH)"/>
<rect x="925.8" y="1003.5" width="3" height="1.1" fill="#333"/>
<rect x="928.8" y="1003.7" width="6" height="0.7" fill="#ddd"/>
<rect x="1077" y="998" width="39.5" height="28.3" fill="url(#gEh)"/>
<rect x="1077" y="998" width="39.5" height="28.3" fill="url(#pH)"/>
<rect x="1116.5" y="1003.5" width="3" height="1.1" fill="#333"/>
<rect x="1119.5" y="1003.7" width="6" height="0.7" fill="#ddd"/>
<rect x="672.5" y="484.5" width="40.5" height="60.5" fill="#050505"/>
<g transform="rotate(-90 680.0 534.0)"><ellipse cx="680.0" cy="534.0" rx="2.0" ry="1.25" fill="#2b4fae" transform="rotate(-18 680.0 534.0)"/><ellipse cx="680.1" cy="534.1" rx="0.9" ry="0.45" fill="#d9623a" transform="rotate(-18 680.0 534.0)"/><rect x="683.4" y="532.8" width="11.5" height="1.5" fill="#1f4aa0" opacity="0.8"/><rect x="683.4" y="534.7" width="11.5" height="0.5" fill="#1f4aa0" opacity="0.7"/></g>
<text x="693.5" y="514.75" font-family="Liberation Sans, sans-serif" text-rendering="geometricPrecision" font-size="2.7" fill="#e8e8e8" text-anchor="middle" font-weight="normal" transform="rotate(-90 693.5 514.75)">100GHz 1x2 Wavelength Selective Switch</text>
<text x="707.0" y="516.75" font-family="Liberation Sans, sans-serif" text-rendering="geometricPrecision" font-size="2.3" fill="#cfcfcf" text-anchor="middle" font-weight="normal" transform="rotate(-90 707.0 516.75)">Accelink Technologies Co.,LTD</text>
<rect x="674.0" y="485.7" width="3.4" height="3" fill="#eee"/>
<path d="M703.0,545.0 l-5,9" stroke="#333" stroke-width="0.9"/>
<rect x="1435.7" y="484.2" width="40.5" height="60.5" fill="#050505"/>
<g transform="rotate(-90 1443.2 533.7)"><ellipse cx="1443.2" cy="533.7" rx="2.0" ry="1.25" fill="#2b4fae" transform="rotate(-18 1443.2 533.7)"/><ellipse cx="1443.3" cy="533.8000000000001" rx="0.9" ry="0.45" fill="#d9623a" transform="rotate(-18 1443.2 533.7)"/><rect x="1446.6000000000001" y="532.5" width="11.5" height="1.5" fill="#1f4aa0" opacity="0.8"/><rect x="1446.6000000000001" y="534.4000000000001" width="11.5" height="0.5" fill="#1f4aa0" opacity="0.7"/></g>
<text x="1456.7" y="514.45" font-family="Liberation Sans, sans-serif" text-rendering="geometricPrecision" font-size="2.7" fill="#e8e8e8" text-anchor="middle" font-weight="normal" transform="rotate(-90 1456.7 514.45)">100GHz 1x2 Wavelength Selective Switch</text>
<text x="1470.2" y="516.45" font-family="Liberation Sans, sans-serif" text-rendering="geometricPrecision" font-size="2.3" fill="#cfcfcf" text-anchor="middle" font-weight="normal" transform="rotate(-90 1470.2 516.45)">Accelink Technologies Co.,LTD</text>
<rect x="1437.2" y="485.4" width="3.4" height="3" fill="#eee"/>
<path d="M1466.2,544.7 l-5,9" stroke="#333" stroke-width="0.9"/>
<rect x="1193.2" y="413" width="71" height="36" fill="#050505"/>
<g><ellipse cx="1204.2" cy="420.2" rx="2.0" ry="1.25" fill="#2b4fae" transform="rotate(-18 1204.2 420.2)"/><ellipse cx="1204.3" cy="420.3" rx="0.9" ry="0.45" fill="#d9623a" transform="rotate(-18 1204.2 420.2)"/><rect x="1207.6000000000001" y="419.0" width="11.5" height="1.5" fill="#1f4aa0" opacity="0.8"/><rect x="1207.6000000000001" y="420.9" width="11.5" height="0.5" fill="#1f4aa0" opacity="0.7"/></g>
<text x="1229.7" y="431.6" font-family="Liberation Sans, sans-serif" text-rendering="geometricPrecision" font-size="2.7" fill="#e8e8e8" text-anchor="middle" font-weight="normal">100GHz 1x2 Wavelength Selective Switch</text>
<text x="1230.7" y="445.3" font-family="Liberation Sans, sans-serif" text-rendering="geometricPrecision" font-size="2.3" fill="#cfcfcf" text-anchor="middle" font-weight="normal">Accelink Technologies Co.,LTD</text>
<rect x="1260.0" y="414.5" width="3" height="3.4" fill="#eee"/>
<path d="M1193.2,440 l-8,-4.5" stroke="#333" stroke-width="0.9"/>
<rect x="874.7" y="807.5" width="71" height="36" fill="#050505"/>
<g><ellipse cx="885.7" cy="814.7" rx="2.0" ry="1.25" fill="#2b4fae" transform="rotate(-18 885.7 814.7)"/><ellipse cx="885.8000000000001" cy="814.8000000000001" rx="0.9" ry="0.45" fill="#d9623a" transform="rotate(-18 885.7 814.7)"/><rect x="889.1" y="813.5" width="11.5" height="1.5" fill="#1f4aa0" opacity="0.8"/><rect x="889.1" y="815.4000000000001" width="11.5" height="0.5" fill="#1f4aa0" opacity="0.7"/></g>
<text x="911.2" y="826.1" font-family="Liberation Sans, sans-serif" text-rendering="geometricPrecision" font-size="2.7" fill="#e8e8e8" text-anchor="middle" font-weight="normal">100GHz 1x2 Wavelength Selective Switch</text>
<text x="912.2" y="839.8" font-family="Liberation Sans, sans-serif" text-rendering="geometricPrecision" font-size="2.3" fill="#cfcfcf" text-anchor="middle" font-weight="normal">Accelink Technologies Co.,LTD</text>
<rect x="941.5" y="809.0" width="3" height="3.4" fill="#eee"/>
<path d="M874.7,834.5 l-8,-4.5" stroke="#333" stroke-width="0.9"/>
<rect x="1005.7" y="475" width="54.3" height="39.6" fill="#050505"/>
<g><ellipse cx="1016.2" cy="485.2" rx="1.6" ry="1.0" fill="#2b4fae" transform="rotate(-18 1016.2 485.2)"/><ellipse cx="1016.2800000000001" cy="485.28" rx="0.7200000000000001" ry="0.36000000000000004" fill="#d9623a" transform="rotate(-18 1016.2 485.2)"/><rect x="1018.9200000000001" y="484.24" width="9.200000000000001" height="1.2000000000000002" fill="#1f4aa0" opacity="0.8"/><rect x="1018.9200000000001" y="485.76" width="9.200000000000001" height="0.4" fill="#1f4aa0" opacity="0.7"/></g>
<text x="1026.4" y="495.2" font-family="Liberation Sans, sans-serif" text-rendering="geometricPrecision" font-size="3.2" fill="#fff" text-anchor="middle" font-weight="bold" textLength="22.7" lengthAdjust="spacingAndGlyphs">EDFA   Array</text>
<text x="1026.4" y="503.6" font-family="Liberation Sans, sans-serif" text-rendering="geometricPrecision" font-size="1.9" fill="#bdbdbd" text-anchor="middle" font-weight="normal" textLength="22.7" lengthAdjust="spacingAndGlyphs">Accelink Technologies Co.,LTD</text>
<path d="M1060.0,502 l3,-6" stroke="#888" stroke-width="0.9"/>
<rect x="1087" y="742" width="54.3" height="39.6" fill="#050505"/>
<g><ellipse cx="1120.5" cy="770.2" rx="1.0" ry="0.625" fill="#2b4fae" transform="rotate(-18 1120.5 770.2)"/><ellipse cx="1120.55" cy="770.25" rx="0.45" ry="0.225" fill="#d9623a" transform="rotate(-18 1120.5 770.2)"/><rect x="1122.2" y="769.6" width="5.75" height="0.75" fill="#1f4aa0" opacity="0.8"/><rect x="1122.2" y="770.5500000000001" width="5.75" height="0.25" fill="#1f4aa0" opacity="0.7"/></g>
<text x="1107.7" y="762.2" font-family="Liberation Sans, sans-serif" text-rendering="geometricPrecision" font-size="3.2" fill="#fff" text-anchor="middle" font-weight="bold" textLength="22.7" lengthAdjust="spacingAndGlyphs">EDFA   Array</text>
<text x="1107.7" y="770.6" font-family="Liberation Sans, sans-serif" text-rendering="geometricPrecision" font-size="1.9" fill="#bdbdbd" text-anchor="middle" font-weight="normal" textLength="22.7" lengthAdjust="spacingAndGlyphs">Accelink Technologies Co.,LTD</text>
<path d="M1141.3,769 l3,-6" stroke="#888" stroke-width="0.9"/>
<rect x="744" y="661" width="45" height="46.8" fill="#050505"/>
<g transform="rotate(-90 756 697.8)"><ellipse cx="756" cy="697.8" rx="1.6" ry="1.0" fill="#2b4fae" transform="rotate(-18 756 697.8)"/><ellipse cx="756.08" cy="697.88" rx="0.7200000000000001" ry="0.36000000000000004" fill="#d9623a" transform="rotate(-18 756 697.8)"/><rect x="758.72" y="696.8399999999999" width="9.200000000000001" height="1.2000000000000002" fill="#1f4aa0" opacity="0.8"/><rect x="758.72" y="698.3599999999999" width="9.200000000000001" height="0.4" fill="#1f4aa0" opacity="0.7"/></g>
<text x="766" y="686.4" font-family="Liberation Sans, sans-serif" text-rendering="geometricPrecision" font-size="3.2" fill="#fff" text-anchor="middle" font-weight="bold" transform="rotate(-90 766 686.4)" textLength="22.7" lengthAdjust="spacingAndGlyphs">EDFA   Array</text>
<text x="774.5" y="686.4" font-family="Liberation Sans, sans-serif" text-rendering="geometricPrecision" font-size="1.9" fill="#bdbdbd" text-anchor="middle" font-weight="normal" transform="rotate(-90 774.5 686.4)" textLength="22.7" lengthAdjust="spacingAndGlyphs">Accelink Technologies Co.,LTD</text>
<path d="M777,661 l-7,-3" stroke="#aaa" stroke-width="0.9"/>
<rect x="1352.5" y="660.7" width="45" height="46.8" fill="#050505"/>
<g transform="rotate(-90 1364.5 697.5)"><ellipse cx="1364.5" cy="697.5" rx="1.6" ry="1.0" fill="#2b4fae" transform="rotate(-18 1364.5 697.5)"/><ellipse cx="1364.58" cy="697.58" rx="0.7200000000000001" ry="0.36000000000000004" fill="#d9623a" transform="rotate(-18 1364.5 697.5)"/><rect x="1367.22" y="696.54" width="9.200000000000001" height="1.2000000000000002" fill="#1f4aa0" opacity="0.8"/><rect x="1367.22" y="698.06" width="9.200000000000001" height="0.4" fill="#1f4aa0" opacity="0.7"/></g>
<text x="1374.5" y="686.1" font-family="Liberation Sans, sans-serif" text-rendering="geometricPrecision" font-size="3.2" fill="#fff" text-anchor="middle" font-weight="bold" transform="rotate(-90 1374.5 686.1)" textLength="22.7" lengthAdjust="spacingAndGlyphs">EDFA   Array</text>
<text x="1383.0" y="686.1" font-family="Liberation Sans, sans-serif" text-rendering="geometricPrecision" font-size="1.9" fill="#bdbdbd" text-anchor="middle" font-weight="normal" transform="rotate(-90 1383.0 686.1)" textLength="22.7" lengthAdjust="spacingAndGlyphs">Accelink Technologies Co.,LTD</text>
<path d="M1385.5,660.7 l-7,-3" stroke="#aaa" stroke-width="0.9"/>
<rect x="1109" y="279" width="49" height="35" fill="#050505"/>
<g><ellipse cx="1117.6" cy="286.5" rx="2.0" ry="1.25" fill="#2b4fae" transform="rotate(-18 1117.6 286.5)"/><ellipse cx="1117.6999999999998" cy="286.6" rx="0.9" ry="0.45" fill="#d9623a" transform="rotate(-18 1117.6 286.5)"/><rect x="1121.0" y="285.3" width="11.5" height="1.5" fill="#1f4aa0" opacity="0.8"/><rect x="1121.0" y="287.2" width="11.5" height="0.5" fill="#1f4aa0" opacity="0.7"/></g>
<text x="1133.5" y="297.6" font-family="Liberation Sans, sans-serif" text-rendering="geometricPrecision" font-size="3.8" fill="#fff" text-anchor="middle" font-weight="normal">Optical Switch</text>
<text x="1135" y="309" font-family="Liberation Sans, sans-serif" text-rendering="geometricPrecision" font-size="2.1" fill="#cfcfcf" text-anchor="middle" font-weight="normal">Accelink Technologies Co.,LTD</text>
<rect x="1158" y="292.2" width="3.4" height="1.2" fill="#222"/>
<rect x="1161.4" y="292.5" width="9" height="0.6" fill="#e2e2e2"/>
<rect x="1158" y="295.5" width="3.4" height="1.2" fill="#222"/>
<rect x="1161.4" y="295.8" width="9" height="0.6" fill="#e2e2e2"/>
<rect x="1158" y="298.8" width="3.4" height="1.2" fill="#222"/>
<rect x="1161.4" y="299.1" width="9" height="0.6" fill="#e2e2e2"/>
<rect x="1158" y="302.09999999999997" width="3.4" height="1.2" fill="#222"/>
<rect x="1161.4" y="302.4" width="9" height="0.6" fill="#e2e2e2"/>
<rect x="1158" y="305.4" width="3.4" height="1.2" fill="#222"/>
<rect x="1161.4" y="305.7" width="9" height="0.6" fill="#e2e2e2"/>
<rect x="1109.6" y="279.6" width="1.6" height="1.6" fill="#999"/><rect x="1155.6" y="311.6" width="1.6" height="1.6" fill="#999"/>
<rect x="981" y="942.5" width="49" height="35" fill="#050505"/>
<g><ellipse cx="989.6" cy="950.0" rx="2.0" ry="1.25" fill="#2b4fae" transform="rotate(-18 989.6 950.0)"/><ellipse cx="989.7" cy="950.1" rx="0.9" ry="0.45" fill="#d9623a" transform="rotate(-18 989.6 950.0)"/><rect x="993.0" y="948.8" width="11.5" height="1.5" fill="#1f4aa0" opacity="0.8"/><rect x="993.0" y="950.7" width="11.5" height="0.5" fill="#1f4aa0" opacity="0.7"/></g>
<text x="1005.5" y="961.1" font-family="Liberation Sans, sans-serif" text-rendering="geometricPrecision" font-size="3.8" fill="#fff" text-anchor="middle" font-weight="normal">Optical Switch</text>
<text x="1007" y="972.5" font-family="Liberation Sans, sans-serif" text-rendering="geometricPrecision" font-size="2.1" fill="#cfcfcf" text-anchor="middle" font-weight="normal">Accelink Technologies Co.,LTD</text>
<rect x="1030" y="955.7" width="3.4" height="1.2" fill="#222"/>
<rect x="1033.4" y="956.0" width="9" height="0.6" fill="#e2e2e2"/>
<rect x="1030" y="959.0" width="3.4" height="1.2" fill="#222"/>
<rect x="1033.4" y="959.3" width="9" height="0.6" fill="#e2e2e2"/>
<rect x="1030" y="962.3000000000001" width="3.4" height="1.2" fill="#222"/>
<rect x="1033.4" y="962.6" width="9" height="0.6" fill="#e2e2e2"/>
<rect x="1030" y="965.6" width="3.4" height="1.2" fill="#222"/>
<rect x="1033.4" y="965.9" width="9" height="0.6" fill="#e2e2e2"/>
<rect x="1030" y="968.9000000000001" width="3.4" height="1.2" fill="#222"/>
<rect x="1033.4" y="969.2" width="9" height="0.6" fill="#e2e2e2"/>
<rect x="981.6" y="943.1" width="1.6" height="1.6" fill="#999"/><rect x="1027.6" y="975.1" width="1.6" height="1.6" fill="#999"/>
<rect x="518" y="575.5" width="40" height="43" fill="#050505"/>
<g transform="rotate(-90 527.5 608.5)"><ellipse cx="527.5" cy="608.5" rx="2.0" ry="1.25" fill="#2b4fae" transform="rotate(-18 527.5 608.5)"/><ellipse cx="527.6" cy="608.6" rx="0.9" ry="0.45" fill="#d9623a" transform="rotate(-18 527.5 608.5)"/><rect x="530.9" y="607.3" width="11.5" height="1.5" fill="#1f4aa0" opacity="0.8"/><rect x="530.9" y="609.2" width="11.5" height="0.5" fill="#1f4aa0" opacity="0.7"/></g>
<text x="540.5" y="597.0" font-family="Liberation Sans, sans-serif" text-rendering="geometricPrecision" font-size="3.8" fill="#fff" text-anchor="middle" font-weight="normal" transform="rotate(-90 540.5 597.0)">Optical Switch</text>
<text x="551" y="597.0" font-family="Liberation Sans, sans-serif" text-rendering="geometricPrecision" font-size="2.1" fill="#cfcfcf" text-anchor="middle" font-weight="normal" transform="rotate(-90 551 597.0)">Accelink Technologies Co.,LTD</text>
<rect x="533.0" y="572.3" width="1.2" height="3.4" fill="#222"/>
<rect x="536.3" y="572.3" width="1.2" height="3.4" fill="#222"/>
<rect x="539.6" y="572.3" width="1.2" height="3.4" fill="#222"/>
<rect x="542.9" y="572.3" width="1.2" height="3.4" fill="#222"/>
<rect x="546.2" y="572.3" width="1.2" height="3.4" fill="#222"/>
<rect x="518.6" y="616.1" width="1.6" height="1.6" fill="#999"/><rect x="555.6" y="576.1" width="1.6" height="1.6" fill="#999"/>
<rect x="1583.2" y="575.5" width="40" height="43" fill="#050505"/>
<g transform="rotate(-90 1592.7 608.5)"><ellipse cx="1592.7" cy="608.5" rx="2.0" ry="1.25" fill="#2b4fae" transform="rotate(-18 1592.7 608.5)"/><ellipse cx="1592.8" cy="608.6" rx="0.9" ry="0.45" fill="#d9623a" transform="rotate(-18 1592.7 608.5)"/><rect x="1596.1000000000001" y="607.3" width="11.5" height="1.5" fill="#1f4aa0" opacity="0.8"/><rect x="1596.1000000000001" y="609.2" width="11.5" height="0.5" fill="#1f4aa0" opacity="0.7"/></g>
<text x="1605.7" y="597.0" font-family="Liberation Sans, sans-serif" text-rendering="geometricPrecision" font-size="3.8" fill="#fff" text-anchor="middle" font-weight="normal" transform="rotate(-90 1605.7 597.0)">Optical Switch</text>
<text x="1616.2" y="597.0" font-family="Liberation Sans, sans-serif" text-rendering="geometricPrecision" font-size="2.1" fill="#cfcfcf" text-anchor="middle" font-weight="normal" transform="rotate(-90 1616.2 597.0)">Accelink Technologies Co.,LTD</text>
<rect x="1598.2" y="572.3" width="1.2" height="3.4" fill="#222"/>
<rect x="1601.5" y="572.3" width="1.2" height="3.4" fill="#222"/>
<rect x="1604.8" y="572.3" width="1.2" height="3.4" fill="#222"/>
<rect x="1608.1000000000001" y="572.3" width="1.2" height="3.4" fill="#222"/>
<rect x="1611.4" y="572.3" width="1.2" height="3.4" fill="#222"/>
<rect x="1583.8" y="616.1" width="1.6" height="1.6" fill="#999"/><rect x="1620.8" y="576.1" width="1.6" height="1.6" fill="#999"/>
<rect x="1017" y="322.5" width="44.5" height="28.6" fill="#161616"/>
<g><ellipse cx="1022" cy="329.0" rx="1.6" ry="1.0" fill="#2b4fae" transform="rotate(-18 1022 329.0)"/><ellipse cx="1022.08" cy="329.08" rx="0.7200000000000001" ry="0.36000000000000004" fill="#d9623a" transform="rotate(-18 1022 329.0)"/><rect x="1024.72" y="328.04" width="9.200000000000001" height="1.2000000000000002" fill="#1f4aa0" opacity="0.8"/><rect x="1024.72" y="329.56" width="9.200000000000001" height="0.4" fill="#1f4aa0" opacity="0.7"/></g>
<text x="1039" y="337.1" font-family="Liberation Sans, sans-serif" text-rendering="geometricPrecision" font-size="2.2" fill="#e0e0e0" text-anchor="middle" font-weight="normal">Tunable Dispersion Compensation Module</text>
<text x="1041" y="346.5" font-family="Liberation Sans, sans-serif" text-rendering="geometricPrecision" font-size="2.0" fill="#bdbdbd" text-anchor="middle" font-weight="normal">Accelink Technologies Co.,LTD</text>
<rect x="1061.5" y="324.9" width="3" height="1.4" fill="#222"/><rect x="1064.5" y="325.2" width="9" height="0.7" fill="#e4e4e4"/>
<rect x="1061.5" y="347.5" width="3" height="1.4" fill="#222"/><rect x="1064.5" y="347.8" width="9" height="0.7" fill="#e4e4e4"/>
<rect x="1078.8" y="903.8" width="44.5" height="28.6" fill="#161616"/>
<g><ellipse cx="1083.8" cy="910.3" rx="1.6" ry="1.0" fill="#2b4fae" transform="rotate(-18 1083.8 910.3)"/><ellipse cx="1083.8799999999999" cy="910.38" rx="0.7200000000000001" ry="0.36000000000000004" fill="#d9623a" transform="rotate(-18 1083.8 910.3)"/><rect x="1086.52" y="909.3399999999999" width="9.200000000000001" height="1.2000000000000002" fill="#1f4aa0" opacity="0.8"/><rect x="1086.52" y="910.8599999999999" width="9.200000000000001" height="0.4" fill="#1f4aa0" opacity="0.7"/></g>
<text x="1100.8" y="918.4" font-family="Liberation Sans, sans-serif" text-rendering="geometricPrecision" font-size="2.2" fill="#e0e0e0" text-anchor="middle" font-weight="normal">Tunable Dispersion Compensation Module</text>
<text x="1102.8" y="927.8" font-family="Liberation Sans, sans-serif" text-rendering="geometricPrecision" font-size="2.0" fill="#bdbdbd" text-anchor="middle" font-weight="normal">Accelink Technologies Co.,LTD</text>
<rect x="1123.3" y="906.1999999999999" width="3" height="1.4" fill="#222"/><rect x="1126.3" y="906.4999999999999" width="9" height="0.7" fill="#e4e4e4"/>
<rect x="1123.3" y="928.8" width="3" height="1.4" fill="#222"/><rect x="1126.3" y="929.0999999999999" width="9" height="0.7" fill="#e4e4e4"/>
<rect x="568" y="660.3" width="33.8" height="38.8" fill="#161616"/>
<g transform="rotate(-90 575.5 693.5999999999999)"><ellipse cx="575.5" cy="693.5999999999999" rx="1.6" ry="1.0" fill="#2b4fae" transform="rotate(-18 575.5 693.5999999999999)"/><ellipse cx="575.58" cy="693.68" rx="0.7200000000000001" ry="0.36000000000000004" fill="#d9623a" transform="rotate(-18 575.5 693.5999999999999)"/><rect x="578.22" y="692.6399999999999" width="9.200000000000001" height="1.2000000000000002" fill="#1f4aa0" opacity="0.8"/><rect x="578.22" y="694.1599999999999" width="9.200000000000001" height="0.4" fill="#1f4aa0" opacity="0.7"/></g>
<text x="584.5" y="677.6999999999999" font-family="Liberation Sans, sans-serif" text-rendering="geometricPrecision" font-size="2.0" fill="#e0e0e0" text-anchor="middle" font-weight="normal" transform="rotate(-90 584.5 677.6999999999999)">Tunable Dispersion Compensation Module</text>
<text x="594" y="679.6999999999999" font-family="Liberation Sans, sans-serif" text-rendering="geometricPrecision" font-size="1.9" fill="#bdbdbd" text-anchor="middle" font-weight="normal" transform="rotate(-90 594 679.6999999999999)">Accelink Technologies Co.,LTD</text>
<rect x="570.6" y="657.3" width="1.4" height="3" fill="#222"/><rect x="570.9" y="648.3" width="0.7" height="9" fill="#e4e4e4"/>
<rect x="597.5" y="657.3" width="1.4" height="3" fill="#222"/><rect x="597.8" y="648.3" width="0.7" height="9" fill="#e4e4e4"/>
<rect x="1539" y="661.8" width="33.8" height="38.8" fill="#161616"/>
<g transform="rotate(-90 1546.5 695.0999999999999)"><ellipse cx="1546.5" cy="695.0999999999999" rx="1.6" ry="1.0" fill="#2b4fae" transform="rotate(-18 1546.5 695.0999999999999)"/><ellipse cx="1546.58" cy="695.18" rx="0.7200000000000001" ry="0.36000000000000004" fill="#d9623a" transform="rotate(-18 1546.5 695.0999999999999)"/><rect x="1549.22" y="694.1399999999999" width="9.200000000000001" height="1.2000000000000002" fill="#1f4aa0" opacity="0.8"/><rect x="1549.22" y="695.6599999999999" width="9.200000000000001" height="0.4" fill="#1f4aa0" opacity="0.7"/></g>
<text x="1555.5" y="679.1999999999999" font-family="Liberation Sans, sans-serif" text-rendering="geometricPrecision" font-size="2.0" fill="#e0e0e0" text-anchor="middle" font-weight="normal" transform="rotate(-90 1555.5 679.1999999999999)">Tunable Dispersion Compensation Module</text>
<text x="1565" y="681.1999999999999" font-family="Liberation Sans, sans-serif" text-rendering="geometricPrecision" font-size="1.9" fill="#bdbdbd" text-anchor="middle" font-weight="normal" transform="rotate(-90 1565 681.1999999999999)">Accelink Technologies Co.,LTD</text>
<rect x="1541.6" y="658.8" width="1.4" height="3" fill="#222"/><rect x="1541.8999999999999" y="649.8" width="0.7" height="9" fill="#e4e4e4"/>
<rect x="1568.5" y="658.8" width="1.4" height="3" fill="#222"/><rect x="1568.8" y="649.8" width="0.7" height="9" fill="#e4e4e4"/>
<path d="M1255.9,334 l4,6 l-4,6" fill="none" stroke="#0a0a0a" stroke-width="1.6"/>
<rect x="1205.5" y="323" width="50.9" height="34.7" rx="1.5" fill="#050505"/>
<rect x="1221.9" y="328.2" width="11" height="9.9" fill="#f4f4f4"/>
<rect x="1223.5" y="329.2" width="8" height="2.6" rx="1.2" fill="#d4373c"/><rect x="1225.3" y="330.1" width="4.6" height="0.9" fill="#f3d0d0"/>
<circle cx="1223.8" cy="334.2" r="1" fill="#e21a2a"/><rect x="1226.0" y="333.4" width="5.5" height="1.6" fill="#bdbdbd"/>
<rect x="1232.9" y="328.2" width="16.9" height="9.9" fill="#f2e51c"/>
<rect x="1232.9" y="332.7" width="16.9" height="0.9" fill="#d9d9e6"/>
<rect x="1235.0" y="329.4" width="12.5" height="2.4" fill="#6b6410" opacity="0.8"/><rect x="1235.0" y="334.6" width="12.5" height="2.4" fill="#6b6410" opacity="0.8"/>
<g><ellipse cx="1224.2" cy="341.4" rx="1.9" ry="1.1875" fill="#2b4fae" transform="rotate(-18 1224.2 341.4)"/><ellipse cx="1224.295" cy="341.495" rx="0.855" ry="0.4275" fill="#d9623a" transform="rotate(-18 1224.2 341.4)"/><rect x="1227.43" y="340.26" width="10.924999999999999" height="1.4249999999999998" fill="#1f4aa0" opacity="0.8"/><rect x="1227.43" y="342.065" width="10.924999999999999" height="0.475" fill="#1f4aa0" opacity="0.7"/></g>
<text x="1235.8" y="348.4" font-family="Liberation Sans, sans-serif" text-rendering="geometricPrecision" font-size="2.9" fill="#f0f0f0" text-anchor="middle" font-weight="bold">EDFA-GC Gain Block</text>
<text x="1242.5" y="350.6" font-family="Liberation Sans, sans-serif" text-rendering="geometricPrecision" font-size="1.5" fill="#999" text-anchor="middle" font-weight="normal">Accelink Technologies</text>
<rect x="1213.1" y="331.3" width="1.8" height="1.6" fill="#d6d6d6"/>
<rect x="1216.6999999999998" y="331.3" width="1.8" height="1.6" fill="#d6d6d6"/>
<rect x="1213.1" y="347.5" width="1.8" height="1.6" fill="#d6d6d6"/>
<rect x="1216.6999999999998" y="347.5" width="1.8" height="1.6" fill="#d6d6d6"/>
<circle cx="1207.6" cy="325.1" r="0.9" fill="#ddd"/>
<circle cx="1254.3" cy="325.1" r="0.9" fill="#ddd"/>
<circle cx="1207.6" cy="355.6" r="0.9" fill="#ddd"/>
<circle cx="1254.3" cy="355.6" r="0.9" fill="#ddd"/>
<path d="M933.1999999999999,910 l4,6 l-4,6" fill="none" stroke="#0a0a0a" stroke-width="1.6"/>
<rect x="882.8" y="899" width="50.9" height="34.7" rx="1.5" fill="#050505"/>
<rect x="899.1999999999999" y="904.2" width="11" height="9.9" fill="#f4f4f4"/>
<rect x="900.8" y="905.2" width="8" height="2.6" rx="1.2" fill="#d4373c"/><rect x="902.5999999999999" y="906.1" width="4.6" height="0.9" fill="#f3d0d0"/>
<circle cx="901.0999999999999" cy="910.2" r="1" fill="#e21a2a"/><rect x="903.3" y="909.4" width="5.5" height="1.6" fill="#bdbdbd"/>
<rect x="910.1999999999999" y="904.2" width="16.9" height="9.9" fill="#f2e51c"/>
<rect x="910.1999999999999" y="908.7" width="16.9" height="0.9" fill="#d9d9e6"/>
<rect x="912.3" y="905.4" width="12.5" height="2.4" fill="#6b6410" opacity="0.8"/><rect x="912.3" y="910.6" width="12.5" height="2.4" fill="#6b6410" opacity="0.8"/>
<g><ellipse cx="901.5" cy="917.4" rx="1.9" ry="1.1875" fill="#2b4fae" transform="rotate(-18 901.5 917.4)"/><ellipse cx="901.595" cy="917.495" rx="0.855" ry="0.4275" fill="#d9623a" transform="rotate(-18 901.5 917.4)"/><rect x="904.73" y="916.26" width="10.924999999999999" height="1.4249999999999998" fill="#1f4aa0" opacity="0.8"/><rect x="904.73" y="918.0649999999999" width="10.924999999999999" height="0.475" fill="#1f4aa0" opacity="0.7"/></g>
<text x="913.0999999999999" y="924.4" font-family="Liberation Sans, sans-serif" text-rendering="geometricPrecision" font-size="2.9" fill="#f0f0f0" text-anchor="middle" font-weight="bold">EDFA-GC Gain Block</text>
<text x="919.8" y="926.6" font-family="Liberation Sans, sans-serif" text-rendering="geometricPrecision" font-size="1.5" fill="#999" text-anchor="middle" font-weight="normal">Accelink Technologies</text>
<rect x="890.4" y="907.3000000000001" width="1.8" height="1.6" fill="#d6d6d6"/>
<rect x="894.0" y="907.3000000000001" width="1.8" height="1.6" fill="#d6d6d6"/>
<rect x="890.4" y="923.5" width="1.8" height="1.6" fill="#d6d6d6"/>
<rect x="894.0" y="923.5" width="1.8" height="1.6" fill="#d6d6d6"/>
<circle cx="884.9" cy="901.1" r="0.9" fill="#ddd"/>
<circle cx="931.5999999999999" cy="901.1" r="0.9" fill="#ddd"/>
<circle cx="884.9" cy="931.6" r="0.9" fill="#ddd"/>
<circle cx="931.5999999999999" cy="931.6" r="0.9" fill="#ddd"/>
<path d="M583,490.3 l5.5,-3.6 l5.5,3.6" fill="none" stroke="#0a0a0a" stroke-width="1.6"/>
<path d="M586,487.6 l2.5,-1.6 l2.5,1.6" fill="none" stroke="#ddd" stroke-width="0.8"/>
<rect x="569" y="489.8" width="39" height="44.4" rx="1.5" fill="#050505"/>
<rect x="575.2" y="495.7" width="10.7" height="14.4" fill="#f2e51c"/>
<rect x="580" y="495.7" width="0.9" height="14.4" fill="#d9d9e6"/>
<rect x="576.4" y="497.8" width="2.6" height="10.5" fill="#8a7f10" opacity="0.75"/><rect x="581.8" y="497.8" width="2.9" height="10.5" fill="#6b6410" opacity="0.8"/>
<rect x="575.2" y="510.1" width="10.7" height="10.4" fill="#f4f4f4"/>
<rect x="576" y="511.1" width="3.2" height="8.2" rx="1.2" fill="#d4373c"/><rect x="577" y="512.8" width="1.2" height="4.8" fill="#f6dada"/>
<circle cx="581.6" cy="518.4" r="1" fill="#e21a2a"/>
<path d="M581,515.8 l3.5,-4.5" stroke="#999" stroke-width="0.7"/>
<g transform="rotate(-90 590.3 518.1)"><ellipse cx="590.3" cy="518.1" rx="1.9" ry="1.1875" fill="#2b4fae" transform="rotate(-18 590.3 518.1)"/><ellipse cx="590.395" cy="518.195" rx="0.855" ry="0.4275" fill="#d9623a" transform="rotate(-18 590.3 518.1)"/><rect x="593.53" y="516.96" width="10.924999999999999" height="1.4249999999999998" fill="#1f4aa0" opacity="0.8"/><rect x="593.53" y="518.765" width="10.924999999999999" height="0.475" fill="#1f4aa0" opacity="0.7"/></g>
<text x="597.4" y="508.1" font-family="Liberation Sans, sans-serif" text-rendering="geometricPrecision" font-size="2.5" fill="#f0f0f0" text-anchor="middle" font-weight="bold" transform="rotate(-90 597.4 508.1)">EDFA-GC Gain Block</text>
<text x="600.5" y="502.3" font-family="Liberation Sans, sans-serif" text-rendering="geometricPrecision" font-size="1.5" fill="#999" text-anchor="middle" font-weight="normal" transform="rotate(-90 600.5 502.3)">Accelink Technologies</text>
<rect x="578.1" y="523.2" width="1.8" height="1.6" fill="#d6d6d6"/>
<rect x="578.1" y="526.4000000000001" width="1.8" height="1.6" fill="#d6d6d6"/>
<rect x="596.9" y="523.2" width="1.8" height="1.6" fill="#d6d6d6"/>
<rect x="596.9" y="526.4000000000001" width="1.8" height="1.6" fill="#d6d6d6"/>
<circle cx="571.1" cy="492.1" r="0.9" fill="#ddd"/>
<circle cx="605.9" cy="492.1" r="0.9" fill="#ddd"/>
<circle cx="571.1" cy="532.1" r="0.9" fill="#ddd"/>
<circle cx="605.9" cy="532.1" r="0.9" fill="#ddd"/>
<path d="M1547.5,490.7 l5.5,-3.6 l5.5,3.6" fill="none" stroke="#0a0a0a" stroke-width="1.6"/>
<path d="M1550.5,488.0 l2.5,-1.6 l2.5,1.6" fill="none" stroke="#ddd" stroke-width="0.8"/>
<rect x="1533.5" y="490.2" width="39" height="44.4" rx="1.5" fill="#050505"/>
<rect x="1539.7" y="496.09999999999997" width="10.7" height="14.4" fill="#f2e51c"/>
<rect x="1544.5" y="496.09999999999997" width="0.9" height="14.4" fill="#d9d9e6"/>
<rect x="1540.9" y="498.2" width="2.6" height="10.5" fill="#8a7f10" opacity="0.75"/><rect x="1546.3" y="498.2" width="2.9" height="10.5" fill="#6b6410" opacity="0.8"/>
<rect x="1539.7" y="510.5" width="10.7" height="10.4" fill="#f4f4f4"/>
<rect x="1540.5" y="511.5" width="3.2" height="8.2" rx="1.2" fill="#d4373c"/><rect x="1541.5" y="513.2" width="1.2" height="4.8" fill="#f6dada"/>
<circle cx="1546.1" cy="518.8" r="1" fill="#e21a2a"/>
<path d="M1545.5,516.2 l3.5,-4.5" stroke="#999" stroke-width="0.7"/>
<g transform="rotate(-90 1554.8 518.5)"><ellipse cx="1554.8" cy="518.5" rx="1.9" ry="1.1875" fill="#2b4fae" transform="rotate(-18 1554.8 518.5)"/><ellipse cx="1554.895" cy="518.595" rx="0.855" ry="0.4275" fill="#d9623a" transform="rotate(-18 1554.8 518.5)"/><rect x="1558.03" y="517.36" width="10.924999999999999" height="1.4249999999999998" fill="#1f4aa0" opacity="0.8"/><rect x="1558.03" y="519.165" width="10.924999999999999" height="0.475" fill="#1f4aa0" opacity="0.7"/></g>
<text x="1561.9" y="508.5" font-family="Liberation Sans, sans-serif" text-rendering="geometricPrecision" font-size="2.5" fill="#f0f0f0" text-anchor="middle" font-weight="bold" transform="rotate(-90 1561.9 508.5)">EDFA-GC Gain Block</text>
<text x="1565.0" y="502.7" font-family="Liberation Sans, sans-serif" text-rendering="geometricPrecision" font-size="1.5" fill="#999" text-anchor="middle" font-weight="normal" transform="rotate(-90 1565.0 502.7)">Accelink Technologies</text>
<rect x="1542.6" y="523.6" width="1.8" height="1.6" fill="#d6d6d6"/>
<rect x="1542.6" y="526.8000000000001" width="1.8" height="1.6" fill="#d6d6d6"/>
<rect x="1561.3999999999999" y="523.6" width="1.8" height="1.6" fill="#d6d6d6"/>
<rect x="1561.3999999999999" y="526.8000000000001" width="1.8" height="1.6" fill="#d6d6d6"/>
<circle cx="1535.6" cy="492.5" r="0.9" fill="#ddd"/>
<circle cx="1570.4" cy="492.5" r="0.9" fill="#ddd"/>
<circle cx="1535.6" cy="532.5" r="0.9" fill="#ddd"/>
<circle cx="1570.4" cy="532.5" r="0.9" fill="#ddd"/>
<rect x="1114" y="368.2" width="40" height="24.4" fill="#b3a283"/>
<rect x="1142.5" y="368.2" width="11.5" height="24.4" fill="#245240"/>
<rect x="1144" y="370.2" width="6" height="20.4" fill="#5d8a6c" opacity="0.55"/>
<rect x="1152.2" y="368.2" width="1.8" height="24.4" fill="#26382c"/>
<g><ellipse cx="1118.5" cy="371.7" rx="1.4" ry="0.875" fill="#2b4fae" transform="rotate(-18 1118.5 371.7)"/><ellipse cx="1118.57" cy="371.77" rx="0.63" ry="0.315" fill="#d9623a" transform="rotate(-18 1118.5 371.7)"/><rect x="1120.88" y="370.86" width="8.049999999999999" height="1.0499999999999998" fill="#1f4aa0" opacity="0.8"/><rect x="1120.88" y="372.19" width="8.049999999999999" height="0.35" fill="#1f4aa0" opacity="0.7"/></g>
<text x="1128.5" y="380.5" font-family="Liberation Sans, sans-serif" text-rendering="geometricPrecision" font-size="1.8" fill="#efe9dc" text-anchor="middle" font-weight="normal">Optical Performance Monitor</text>
<text x="1129" y="389.5" font-family="Liberation Sans, sans-serif" text-rendering="geometricPrecision" font-size="1.5" fill="#e0d8c6" text-anchor="middle" font-weight="normal">Accelink Technologies Co.,LTD</text>
<rect x="1154" y="391.29999999999995" width="10" height="0.6" fill="#e6e6e6"/>
<rect x="984.5" y="863.3" width="40" height="24.4" fill="#b3a283"/>
<rect x="1013.0" y="863.3" width="11.5" height="24.4" fill="#245240"/>
<rect x="1014.5" y="865.3" width="6" height="20.4" fill="#5d8a6c" opacity="0.55"/>
<rect x="1022.7" y="863.3" width="1.8" height="24.4" fill="#26382c"/>
<g><ellipse cx="989.0" cy="866.8" rx="1.4" ry="0.875" fill="#2b4fae" transform="rotate(-18 989.0 866.8)"/><ellipse cx="989.07" cy="866.87" rx="0.63" ry="0.315" fill="#d9623a" transform="rotate(-18 989.0 866.8)"/><rect x="991.38" y="865.9599999999999" width="8.049999999999999" height="1.0499999999999998" fill="#1f4aa0" opacity="0.8"/><rect x="991.38" y="867.29" width="8.049999999999999" height="0.35" fill="#1f4aa0" opacity="0.7"/></g>
<text x="999.0" y="875.5999999999999" font-family="Liberation Sans, sans-serif" text-rendering="geometricPrecision" font-size="1.8" fill="#efe9dc" text-anchor="middle" font-weight="normal">Optical Performance Monitor</text>
<text x="999.5" y="884.5999999999999" font-family="Liberation Sans, sans-serif" text-rendering="geometricPrecision" font-size="1.5" fill="#e0d8c6" text-anchor="middle" font-weight="normal">Accelink Technologies Co.,LTD</text>
<rect x="1024.5" y="886.4" width="10" height="0.6" fill="#e6e6e6"/>
<rect x="620.5" y="580" width="28.4" height="34" fill="#b3a283"/>
<rect x="620.5" y="580" width="28.4" height="10" fill="#245240"/>
<rect x="622.5" y="583.5" width="24.4" height="5" fill="#5d8a6c" opacity="0.55"/>
<rect x="620.5" y="580" width="28.4" height="1.8" fill="#26382c"/>
<g transform="rotate(-90 624.5 609.5)"><ellipse cx="624.5" cy="609.5" rx="1.4" ry="0.875" fill="#2b4fae" transform="rotate(-18 624.5 609.5)"/><ellipse cx="624.57" cy="609.57" rx="0.63" ry="0.315" fill="#d9623a" transform="rotate(-18 624.5 609.5)"/><rect x="626.88" y="608.66" width="8.049999999999999" height="1.0499999999999998" fill="#1f4aa0" opacity="0.8"/><rect x="626.88" y="609.99" width="8.049999999999999" height="0.35" fill="#1f4aa0" opacity="0.7"/></g>
<text x="633.5" y="601.5" font-family="Liberation Sans, sans-serif" text-rendering="geometricPrecision" font-size="1.8" fill="#efe9dc" text-anchor="middle" font-weight="normal" transform="rotate(-90 633.5 601.5)">Optical Performance Monitor</text>
<text x="643.0" y="601.5" font-family="Liberation Sans, sans-serif" text-rendering="geometricPrecision" font-size="1.5" fill="#e0d8c6" text-anchor="middle" font-weight="normal" transform="rotate(-90 643.0 601.5)">Accelink Technologies Co.,LTD</text>
<rect x="645.6999999999999" y="571" width="0.6" height="9" fill="#e6e6e6"/>
<rect x="1492" y="579.9" width="28.4" height="34" fill="#b3a283"/>
<rect x="1492" y="579.9" width="28.4" height="10" fill="#245240"/>
<rect x="1494" y="583.4" width="24.4" height="5" fill="#5d8a6c" opacity="0.55"/>
<rect x="1492" y="579.9" width="28.4" height="1.8" fill="#26382c"/>
<g transform="rotate(-90 1496 609.4)"><ellipse cx="1496" cy="609.4" rx="1.4" ry="0.875" fill="#2b4fae" transform="rotate(-18 1496 609.4)"/><ellipse cx="1496.07" cy="609.47" rx="0.63" ry="0.315" fill="#d9623a" transform="rotate(-18 1496 609.4)"/><rect x="1498.38" y="608.56" width="8.049999999999999" height="1.0499999999999998" fill="#1f4aa0" opacity="0.8"/><rect x="1498.38" y="609.89" width="8.049999999999999" height="0.35" fill="#1f4aa0" opacity="0.7"/></g>
<text x="1505" y="601.4" font-family="Liberation Sans, sans-serif" text-rendering="geometricPrecision" font-size="1.8" fill="#efe9dc" text-anchor="middle" font-weight="normal" transform="rotate(-90 1505 601.4)">Optical Performance Monitor</text>
<text x="1514.5" y="601.4" font-family="Liberation Sans, sans-serif" text-rendering="geometricPrecision" font-size="1.5" fill="#e0d8c6" text-anchor="middle" font-weight="normal" transform="rotate(-90 1514.5 601.4)">Accelink Technologies Co.,LTD</text>
<rect x="1517.2" y="570.9" width="0.6" height="9" fill="#e6e6e6"/>
<rect x="981.3" y="420.3" width="24" height="0.8" fill="#cfcfcf"/>
<rect x="1080.3" y="419.5" width="21" height="2.6" fill="url(#gFib)"/>
<rect x="1005.3" y="417.3" width="75" height="7.2" fill="#6c6e70"/>
<rect x="1005.3" y="417.3" width="75" height="1" fill="#a9abad"/>
<ellipse cx="1011.3" cy="421.1" rx="3.4" ry="2.3" fill="#2a55b8"/><ellipse cx="1010.6999999999999" cy="421.1" rx="1.6" ry="1.1" fill="#e8572f"/>
<rect x="1016.3" y="419.3" width="16" height="3.2" fill="#3a6fc4" opacity="0.6"/>
<text x="1056.3" y="423.40000000000003" font-family="Liberation Sans, sans-serif" text-rendering="geometricPrecision" font-size="5.6" fill="#3b3b3b" text-anchor="middle" font-weight="normal">PLC Splitter</text>
<rect x="1034.8" y="835" width="24" height="0.8" fill="#cfcfcf"/>
<rect x="1133.8" y="834.2" width="21" height="2.6" fill="url(#gFib)"/>
<rect x="1058.8" y="832" width="75" height="7.2" fill="#6c6e70"/>
<rect x="1058.8" y="832" width="75" height="1" fill="#a9abad"/>
<ellipse cx="1064.8" cy="835.8" rx="3.4" ry="2.3" fill="#2a55b8"/><ellipse cx="1064.2" cy="835.8" rx="1.6" ry="1.1" fill="#e8572f"/>
<rect x="1069.8" y="834" width="16" height="3.2" fill="#3a6fc4" opacity="0.6"/>
<text x="1109.8" y="838.1" font-family="Liberation Sans, sans-serif" text-rendering="geometricPrecision" font-size="5.6" fill="#3b3b3b" text-anchor="middle" font-weight="normal">PLC Splitter</text>
<rect x="680.2" y="632.5" width="1.6" height="12" fill="#7a3b3b"/>
<rect x="680.8" y="709.0" width="0.8" height="14" fill="#d5d5d5"/>
<rect x="677" y="644.5" width="8.6" height="64.5" fill="#6c6e70"/>
<rect x="677" y="644.5" width="1" height="64.5" fill="#a9abad"/>
<ellipse cx="681.4" cy="703.5" rx="2.6" ry="3.2" fill="#2a55b8"/><ellipse cx="681.4" cy="704.0" rx="1.2" ry="1.5" fill="#e8572f"/>
<rect x="679.7" y="684.0" width="3.2" height="15" fill="#3a6fc4" opacity="0.6"/>
<text x="683.6" y="665.5" font-family="Liberation Sans, sans-serif" text-rendering="geometricPrecision" font-size="5.6" fill="#3b3b3b" text-anchor="middle" font-weight="normal" transform="rotate(-90 683.6 665.5)">PLC Splitter</text>
<rect x="1459.0" y="631.8" width="1.6" height="12" fill="#7a3b3b"/>
<rect x="1459.6" y="708.3" width="0.8" height="14" fill="#d5d5d5"/>
<rect x="1455.8" y="643.8" width="8.6" height="64.5" fill="#6c6e70"/>
<rect x="1455.8" y="643.8" width="1" height="64.5" fill="#a9abad"/>
<ellipse cx="1460.2" cy="702.8" rx="2.6" ry="3.2" fill="#2a55b8"/><ellipse cx="1460.2" cy="703.3" rx="1.2" ry="1.5" fill="#e8572f"/>
<rect x="1458.5" y="683.3" width="3.2" height="15" fill="#3a6fc4" opacity="0.6"/>
<text x="1462.3999999999999" y="664.8" font-family="Liberation Sans, sans-serif" text-rendering="geometricPrecision" font-size="5.6" fill="#3b3b3b" text-anchor="middle" font-weight="normal" transform="rotate(-90 1462.3999999999999 664.8)">PLC Splitter</text>
<rect x="924" y="498" width="3.6" height="6" fill="#0a0a0a"/><rect x="924.9" y="504" width="1.8" height="4.5" rx="0.9" fill="#1a1a1a"/>
<rect x="942" y="498" width="3.6" height="6" fill="#0a0a0a"/><rect x="942.9" y="504" width="1.8" height="4.5" rx="0.9" fill="#1a1a1a"/>
<rect x="929.5" y="416" width="6.5" height="7" fill="#dcdcdc"/>
<rect x="914" y="423" width="38" height="76" rx="1.6" fill="#050505"/>
<g transform="rotate(90 943 437)"><ellipse cx="943" cy="437" rx="2.0" ry="1.25" fill="#2b4fae" transform="rotate(-18 943 437)"/><ellipse cx="943.1" cy="437.1" rx="0.9" ry="0.45" fill="#d9623a" transform="rotate(-18 943 437)"/><rect x="946.4" y="435.8" width="11.5" height="1.5" fill="#1f4aa0" opacity="0.8"/><rect x="946.4" y="437.7" width="11.5" height="0.5" fill="#1f4aa0" opacity="0.7"/></g>
<text x="931.5" y="464" font-family="Liberation Sans, sans-serif" text-rendering="geometricPrecision" font-size="4.2" fill="#f2f2f2" text-anchor="middle" font-weight="normal" transform="rotate(90 931.5 464)" textLength="45" lengthAdjust="spacingAndGlyphs">AWG DWDM Module</text>
<text x="922.5" y="477" font-family="Liberation Sans, sans-serif" text-rendering="geometricPrecision" font-size="1.9" fill="#b5b5b5" text-anchor="middle" font-weight="normal" transform="rotate(90 922.5 477)">Accelink Technologies Co.,LTD</text>
<rect x="1161.7" y="751.8" width="3.6" height="6" fill="#0a0a0a"/><rect x="1162.6000000000001" y="746.8" width="1.8" height="5" rx="0.9" fill="#1a1a1a"/>
<rect x="1179.7" y="751.8" width="3.6" height="6" fill="#0a0a0a"/><rect x="1180.6000000000001" y="746.8" width="1.8" height="5" rx="0.9" fill="#1a1a1a"/>
<rect x="1170.2" y="832.8" width="7" height="6.5" fill="#d0d0d0"/>
<rect x="1155.2" y="756.8" width="38" height="76" rx="1.6" fill="#050505"/>
<g transform="rotate(-90 1164.2 818.8)"><ellipse cx="1164.2" cy="818.8" rx="2.0" ry="1.25" fill="#2b4fae" transform="rotate(-18 1164.2 818.8)"/><ellipse cx="1164.3" cy="818.9" rx="0.9" ry="0.45" fill="#d9623a" transform="rotate(-18 1164.2 818.8)"/><rect x="1167.6000000000001" y="817.5999999999999" width="11.5" height="1.5" fill="#1f4aa0" opacity="0.8"/><rect x="1167.6000000000001" y="819.5" width="11.5" height="0.5" fill="#1f4aa0" opacity="0.7"/></g>
<text x="1175.7" y="790.8" font-family="Liberation Sans, sans-serif" text-rendering="geometricPrecision" font-size="4.2" fill="#f2f2f2" text-anchor="middle" font-weight="normal" transform="rotate(-90 1175.7 790.8)" textLength="45" lengthAdjust="spacingAndGlyphs">AWG DWDM Module</text>
<text x="1185.2" y="776.8" font-family="Liberation Sans, sans-serif" text-rendering="geometricPrecision" font-size="1.9" fill="#b5b5b5" text-anchor="middle" font-weight="normal" transform="rotate(-90 1185.2 776.8)">Accelink Technologies Co.,LTD</text>
<rect x="675.9" y="746.0999999999999" width="7.5" height="6.3" fill="#d9d9d9"/>
<rect x="770.4" y="738.9" width="6" height="3.6" fill="#0a0a0a"/><rect x="776.4" y="739.6999999999999" width="5" height="1.8" rx="0.9" fill="#1a1a1a"/><rect x="780.4" y="740.3" width="4" height="0.8" fill="#c9a0a0"/>
<rect x="770.4" y="754.3" width="6" height="3.6" fill="#0a0a0a"/><rect x="776.4" y="755.0999999999999" width="5" height="1.8" rx="0.9" fill="#1a1a1a"/><rect x="780.4" y="755.6999999999999" width="4" height="0.8" fill="#c9a0a0"/>
<rect x="683.4" y="733.3" width="88" height="33" rx="1.6" fill="#050505"/>
<g><ellipse cx="696.4" cy="740.3" rx="2.0" ry="1.25" fill="#2b4fae" transform="rotate(-18 696.4 740.3)"/><ellipse cx="696.5" cy="740.4" rx="0.9" ry="0.45" fill="#d9623a" transform="rotate(-18 696.4 740.3)"/><rect x="699.8" y="739.0999999999999" width="11.5" height="1.5" fill="#1f4aa0" opacity="0.8"/><rect x="699.8" y="741.0" width="11.5" height="0.5" fill="#1f4aa0" opacity="0.7"/></g>
<text x="732.4" y="751.5999999999999" font-family="Liberation Sans, sans-serif" text-rendering="geometricPrecision" font-size="4.2" fill="#f2f2f2" text-anchor="middle" font-weight="normal" textLength="45" lengthAdjust="spacingAndGlyphs">AWG DWDM Module</text>
<text x="743.4" y="761.0999999999999" font-family="Liberation Sans, sans-serif" text-rendering="geometricPrecision" font-size="1.9" fill="#b5b5b5" text-anchor="middle" font-weight="normal">Accelink Technologies Co.,LTD</text>
<rect x="1382.5" y="768.0999999999999" width="7.5" height="6.3" fill="#d9d9d9"/>
<rect x="1477" y="760.9" width="6" height="3.6" fill="#0a0a0a"/><rect x="1483" y="761.6999999999999" width="5" height="1.8" rx="0.9" fill="#1a1a1a"/><rect x="1487" y="762.3" width="4" height="0.8" fill="#c9a0a0"/>
<rect x="1477" y="776.3" width="6" height="3.6" fill="#0a0a0a"/><rect x="1483" y="777.0999999999999" width="5" height="1.8" rx="0.9" fill="#1a1a1a"/><rect x="1487" y="777.6999999999999" width="4" height="0.8" fill="#c9a0a0"/>
<rect x="1390" y="755.3" width="88" height="33" rx="1.6" fill="#050505"/>
<g><ellipse cx="1403" cy="762.3" rx="2.0" ry="1.25" fill="#2b4fae" transform="rotate(-18 1403 762.3)"/><ellipse cx="1403.1" cy="762.4" rx="0.9" ry="0.45" fill="#d9623a" transform="rotate(-18 1403 762.3)"/><rect x="1406.4" y="761.0999999999999" width="11.5" height="1.5" fill="#1f4aa0" opacity="0.8"/><rect x="1406.4" y="763.0" width="11.5" height="0.5" fill="#1f4aa0" opacity="0.7"/></g>
<text x="1439" y="773.5999999999999" font-family="Liberation Sans, sans-serif" text-rendering="geometricPrecision" font-size="4.2" fill="#f2f2f2" text-anchor="middle" font-weight="normal" textLength="45" lengthAdjust="spacingAndGlyphs">AWG DWDM Module</text>
<text x="1450" y="783.0999999999999" font-family="Liberation Sans, sans-serif" text-rendering="geometricPrecision" font-size="1.9" fill="#b5b5b5" text-anchor="middle" font-weight="normal">Accelink Technologies Co.,LTD</text>
<polygon points="712,447.8 751.6,475.8 751.6,484.8 712,455.2" fill="#cfcfcf"/>
<polygon points="751.6,475.8 838.7,446.40000000000003 838.7,453.6 751.6,484.8" fill="#f3f3f3"/>
<polygon points="712,447.8 794.6,422.6 838.7,446.40000000000003 751.6,475.8" fill="#e1e1e1"/>
<path d="M714.8,447.0L754.5,474.8M717.5,446.1L757.4,473.8M720.3,445.3L760.3,472.9M723.0,444.4L763.2,471.9M725.8,443.6L766.1,470.9M728.5,442.8L769.0,469.9M731.3,441.9L771.9,468.9M734.0,441.1L774.8,468.0M736.8,440.2L777.7,467.0M739.5,439.4L780.6,466.0M742.3,438.6L783.5,465.0M745.0,437.7L786.4,464.0M747.8,436.9L789.3,463.1M750.5,436.0L792.2,462.1M753.3,435.2L795.2,461.1M756.1,434.4L798.1,460.1M758.8,433.5L801.0,459.1M761.6,432.7L803.9,458.2M764.3,431.8L806.8,457.2M767.1,431.0L809.7,456.2M769.8,430.2L812.6,455.2M772.6,429.3L815.5,454.2M775.3,428.5L818.4,453.3M778.1,427.6L821.3,452.3M780.8,426.8L824.2,451.3M783.6,426.0L827.1,450.3M786.3,425.1L830.0,449.3M789.1,424.3L832.9,448.4M791.8,423.4L835.8,447.4" stroke="#c2c2c2" stroke-width="0.7" fill="none"/>
<polygon points="712,447.8 794.6,422.6 838.7,446.40000000000003 751.6,475.8" fill="none" stroke="#ececec" stroke-width="1.2"/>
<path d="M712,448.6 L751.6,476.6" stroke="#a9a9a9" stroke-width="0.8"/>
<path d="M751.6,475.8 V484.8" stroke="#d0d0d0" stroke-width="0.7"/>
<polygon points="789.5,433.40000000000003 797.5,433.40000000000003 796,436.8 788,436.8" fill="#fbfbfb"/>
<polygon points="799.3,439.6 808.2,439.6 806.7,441.6 797.8,441.6" fill="#fbfbfb"/>
<polygon points="803.7,447.2 809.5,447.2 808,449.2 802.2,449.2" fill="#fbfbfb"/>
<polygon points="749.5,442.0 754.0,442.0 752.5,444.40000000000003 748,444.40000000000003" fill="#fbfbfb"/>
<polygon points="742.5,438.3 745.5,438.3 744,440.0 741,440.0" fill="#fbfbfb"/>
<ellipse cx="777.8" cy="429.6" rx="1.5" ry="1" fill="#2e2e2e"/>
<ellipse cx="745.3" cy="438.90000000000003" rx="1.5" ry="1" fill="#2e2e2e"/>
<ellipse cx="753.3" cy="443.8" rx="1.5" ry="1" fill="#2e2e2e"/>
<ellipse cx="785.8" cy="434.0" rx="1.5" ry="1" fill="#2e2e2e"/>
<ellipse cx="796.4" cy="434.0" rx="1.5" ry="1" fill="#2e2e2e"/>
<ellipse cx="806.2" cy="439.8" rx="1.5" ry="1" fill="#2e2e2e"/>
<ellipse cx="808" cy="448.2" rx="1.5" ry="1" fill="#2e2e2e"/>
<ellipse cx="795.6" cy="456.2" rx="1.5" ry="1" fill="#2e2e2e"/>
<ellipse cx="832.4" cy="444.7" rx="1.5" ry="1" fill="#2e2e2e"/>
<polygon points="783.6,468.6 804.1,461.6 804.1,467.40000000000003 783.6,474.40000000000003" fill="#fdfdfd" stroke="#dcdcdc" stroke-width="0.4"/>
<path d="M786.6,470.6 l14,-4.8" stroke="#777" stroke-width="0.8" stroke-dasharray="1.6 0.8"/>
<polygon points="656.4,866.6 696.0,894.6 696.0,903.6 656.4,874.0" fill="#cfcfcf"/>
<polygon points="696.0,894.6 783.1,865.2 783.1,872.4000000000001 696.0,903.6" fill="#f3f3f3"/>
<polygon points="656.4,866.6 739.0,841.4 783.1,865.2 696.0,894.6" fill="#e1e1e1"/>
<path d="M659.2,865.8L698.9,893.6M661.9,864.9L701.8,892.6M664.7,864.1L704.7,891.7M667.4,863.2L707.6,890.7M670.2,862.4L710.5,889.7M672.9,861.6L713.4,888.7M675.7,860.7L716.3,887.7M678.4,859.9L719.2,886.8M681.2,859.0L722.1,885.8M683.9,858.2L725.0,884.8M686.7,857.4L727.9,883.8M689.4,856.5L730.8,882.8M692.2,855.7L733.7,881.9M694.9,854.8L736.6,880.9M697.7,854.0L739.5,879.9M700.5,853.2L742.5,878.9M703.2,852.3L745.4,877.9M706.0,851.5L748.3,877.0M708.7,850.6L751.2,876.0M711.5,849.8L754.1,875.0M714.2,849.0L757.0,874.0M717.0,848.1L759.9,873.0M719.7,847.3L762.8,872.1M722.5,846.4L765.7,871.1M725.2,845.6L768.6,870.1M728.0,844.8L771.5,869.1M730.7,843.9L774.4,868.1M733.5,843.1L777.3,867.2M736.2,842.2L780.2,866.2" stroke="#c2c2c2" stroke-width="0.7" fill="none"/>
<polygon points="656.4,866.6 739.0,841.4 783.1,865.2 696.0,894.6" fill="none" stroke="#ececec" stroke-width="1.2"/>
<path d="M656.4,867.4 L696.0,895.4" stroke="#a9a9a9" stroke-width="0.8"/>
<path d="M696.0,894.6 V903.6" stroke="#d0d0d0" stroke-width="0.7"/>
<polygon points="733.9,852.2 741.9,852.2 740.4,855.6 732.4,855.6" fill="#fbfbfb"/>
<polygon points="743.6999999999999,858.4 752.6,858.4 751.1,860.4 742.1999999999999,860.4" fill="#fbfbfb"/>
<polygon points="748.1,866.0 753.9,866.0 752.4,868.0 746.6,868.0" fill="#fbfbfb"/>
<polygon points="693.9,860.8000000000001 698.4,860.8000000000001 696.9,863.2 692.4,863.2" fill="#fbfbfb"/>
<polygon points="686.9,857.1 689.9,857.1 688.4,858.8000000000001 685.4,858.8000000000001" fill="#fbfbfb"/>
<ellipse cx="722.1999999999999" cy="848.4" rx="1.5" ry="1" fill="#2e2e2e"/>
<ellipse cx="689.6999999999999" cy="857.7" rx="1.5" ry="1" fill="#2e2e2e"/>
<ellipse cx="697.6999999999999" cy="862.6" rx="1.5" ry="1" fill="#2e2e2e"/>
<ellipse cx="730.1999999999999" cy="852.8000000000001" rx="1.5" ry="1" fill="#2e2e2e"/>
<ellipse cx="740.8" cy="852.8000000000001" rx="1.5" ry="1" fill="#2e2e2e"/>
<ellipse cx="750.6" cy="858.6" rx="1.5" ry="1" fill="#2e2e2e"/>
<ellipse cx="752.4" cy="867.0" rx="1.5" ry="1" fill="#2e2e2e"/>
<ellipse cx="740.0" cy="875.0" rx="1.5" ry="1" fill="#2e2e2e"/>
<ellipse cx="776.8" cy="863.5" rx="1.5" ry="1" fill="#2e2e2e"/>
<polygon points="728.0,887.4 748.5,880.4 748.5,886.2 728.0,893.2" fill="#fdfdfd" stroke="#dcdcdc" stroke-width="0.4"/>
<path d="M731.0,889.4 l14,-4.8" stroke="#777" stroke-width="0.8" stroke-dasharray="1.6 0.8"/>
<polygon points="1254.1,790.2 1293.6999999999998,818.2 1293.6999999999998,827.2 1254.1,797.6" fill="#cfcfcf"/>
<polygon points="1293.6999999999998,818.2 1380.8,788.8000000000001 1380.8,796.0000000000001 1293.6999999999998,827.2" fill="#f3f3f3"/>
<polygon points="1254.1,790.2 1336.6999999999998,765.0 1380.8,788.8000000000001 1293.6999999999998,818.2" fill="#e1e1e1"/>
<path d="M1256.9,789.4L1296.6,817.2M1259.6,788.5L1299.5,816.2M1262.4,787.7L1302.4,815.3M1265.1,786.8L1305.3,814.3M1267.9,786.0L1308.2,813.3M1270.6,785.2L1311.1,812.3M1273.4,784.3L1314.0,811.3M1276.1,783.5L1316.9,810.4M1278.9,782.6L1319.8,809.4M1281.6,781.8L1322.7,808.4M1284.4,781.0L1325.6,807.4M1287.1,780.1L1328.5,806.4M1289.9,779.3L1331.4,805.5M1292.6,778.4L1334.3,804.5M1295.4,777.6L1337.2,803.5M1298.2,776.8L1340.2,802.5M1300.9,775.9L1343.1,801.5M1303.7,775.1L1346.0,800.6M1306.4,774.2L1348.9,799.6M1309.2,773.4L1351.8,798.6M1311.9,772.6L1354.7,797.6M1314.7,771.7L1357.6,796.6M1317.4,770.9L1360.5,795.7M1320.2,770.0L1363.4,794.7M1322.9,769.2L1366.3,793.7M1325.7,768.4L1369.2,792.7M1328.4,767.5L1372.1,791.7M1331.2,766.7L1375.0,790.8M1333.9,765.8L1377.9,789.8" stroke="#c2c2c2" stroke-width="0.7" fill="none"/>
<polygon points="1254.1,790.2 1336.6999999999998,765.0 1380.8,788.8000000000001 1293.6999999999998,818.2" fill="none" stroke="#ececec" stroke-width="1.2"/>
<path d="M1254.1,791.0 L1293.6999999999998,819.0" stroke="#a9a9a9" stroke-width="0.8"/>
<path d="M1293.6999999999998,818.2 V827.2" stroke="#d0d0d0" stroke-width="0.7"/>
<polygon points="1331.6,775.8000000000001 1339.6,775.8000000000001 1338.1,779.2 1330.1,779.2" fill="#fbfbfb"/>
<polygon points="1341.3999999999999,782.0 1350.3,782.0 1348.8,784.0 1339.8999999999999,784.0" fill="#fbfbfb"/>
<polygon points="1345.8,789.6 1351.6,789.6 1350.1,791.6 1344.3,791.6" fill="#fbfbfb"/>
<polygon points="1291.6,784.4000000000001 1296.1,784.4000000000001 1294.6,786.8000000000001 1290.1,786.8000000000001" fill="#fbfbfb"/>
<polygon points="1284.6,780.7 1287.6,780.7 1286.1,782.4000000000001 1283.1,782.4000000000001" fill="#fbfbfb"/>
<ellipse cx="1319.8999999999999" cy="772.0" rx="1.5" ry="1" fill="#2e2e2e"/>
<ellipse cx="1287.3999999999999" cy="781.3000000000001" rx="1.5" ry="1" fill="#2e2e2e"/>
<ellipse cx="1295.3999999999999" cy="786.2" rx="1.5" ry="1" fill="#2e2e2e"/>
<ellipse cx="1327.8999999999999" cy="776.4000000000001" rx="1.5" ry="1" fill="#2e2e2e"/>
<ellipse cx="1338.5" cy="776.4000000000001" rx="1.5" ry="1" fill="#2e2e2e"/>
<ellipse cx="1348.3" cy="782.2" rx="1.5" ry="1" fill="#2e2e2e"/>
<ellipse cx="1350.1" cy="790.6" rx="1.5" ry="1" fill="#2e2e2e"/>
<ellipse cx="1337.6999999999998" cy="798.6" rx="1.5" ry="1" fill="#2e2e2e"/>
<ellipse cx="1374.5" cy="787.1" rx="1.5" ry="1" fill="#2e2e2e"/>
<polygon points="1325.6999999999998,811.0 1346.1999999999998,804.0 1346.1999999999998,809.8000000000001 1325.6999999999998,816.8000000000001" fill="#fdfdfd" stroke="#dcdcdc" stroke-width="0.4"/>
<path d="M1328.6999999999998,813.0 l14,-4.8" stroke="#777" stroke-width="0.8" stroke-dasharray="1.6 0.8"/>
<polygon points="1356.2,886 1395.8,914.0 1395.8,923.0 1356.2,893.4" fill="#cfcfcf"/>
<polygon points="1395.8,914.0 1482.9,884.6 1482.9,891.8000000000001 1395.8,923.0" fill="#f3f3f3"/>
<polygon points="1356.2,886 1438.8,860.8 1482.9,884.6 1395.8,914.0" fill="#e1e1e1"/>
<path d="M1359.0,885.2L1398.7,913.0M1361.7,884.3L1401.6,912.0M1364.5,883.5L1404.5,911.1M1367.2,882.6L1407.4,910.1M1370.0,881.8L1410.3,909.1M1372.7,881.0L1413.2,908.1M1375.5,880.1L1416.1,907.1M1378.2,879.3L1419.0,906.2M1381.0,878.4L1421.9,905.2M1383.7,877.6L1424.8,904.2M1386.5,876.8L1427.7,903.2M1389.2,875.9L1430.6,902.2M1392.0,875.1L1433.5,901.3M1394.7,874.2L1436.4,900.3M1397.5,873.4L1439.3,899.3M1400.3,872.6L1442.3,898.3M1403.0,871.7L1445.2,897.3M1405.8,870.9L1448.1,896.4M1408.5,870.0L1451.0,895.4M1411.3,869.2L1453.9,894.4M1414.0,868.4L1456.8,893.4M1416.8,867.5L1459.7,892.4M1419.5,866.7L1462.6,891.5M1422.3,865.8L1465.5,890.5M1425.0,865.0L1468.4,889.5M1427.8,864.2L1471.3,888.5M1430.5,863.3L1474.2,887.5M1433.3,862.5L1477.1,886.6M1436.0,861.6L1480.0,885.6" stroke="#c2c2c2" stroke-width="0.7" fill="none"/>
<polygon points="1356.2,886 1438.8,860.8 1482.9,884.6 1395.8,914.0" fill="none" stroke="#ececec" stroke-width="1.2"/>
<path d="M1356.2,886.8 L1395.8,914.8" stroke="#a9a9a9" stroke-width="0.8"/>
<path d="M1395.8,914.0 V923.0" stroke="#d0d0d0" stroke-width="0.7"/>
<polygon points="1433.7,871.6 1441.7,871.6 1440.2,875 1432.2,875" fill="#fbfbfb"/>
<polygon points="1443.5,877.8 1452.4,877.8 1450.9,879.8 1442.0,879.8" fill="#fbfbfb"/>
<polygon points="1447.9,885.4 1453.7,885.4 1452.2,887.4 1446.4,887.4" fill="#fbfbfb"/>
<polygon points="1393.7,880.2 1398.2,880.2 1396.7,882.6 1392.2,882.6" fill="#fbfbfb"/>
<polygon points="1386.7,876.5 1389.7,876.5 1388.2,878.2 1385.2,878.2" fill="#fbfbfb"/>
<ellipse cx="1422.0" cy="867.8" rx="1.5" ry="1" fill="#2e2e2e"/>
<ellipse cx="1389.5" cy="877.1" rx="1.5" ry="1" fill="#2e2e2e"/>
<ellipse cx="1397.5" cy="882" rx="1.5" ry="1" fill="#2e2e2e"/>
<ellipse cx="1430.0" cy="872.2" rx="1.5" ry="1" fill="#2e2e2e"/>
<ellipse cx="1440.6000000000001" cy="872.2" rx="1.5" ry="1" fill="#2e2e2e"/>
<ellipse cx="1450.4" cy="878" rx="1.5" ry="1" fill="#2e2e2e"/>
<ellipse cx="1452.2" cy="886.4" rx="1.5" ry="1" fill="#2e2e2e"/>
<ellipse cx="1439.8" cy="894.4" rx="1.5" ry="1" fill="#2e2e2e"/>
<ellipse cx="1476.6000000000001" cy="882.9" rx="1.5" ry="1" fill="#2e2e2e"/>
<polygon points="1427.8,906.8 1448.3,899.8 1448.3,905.6 1427.8,912.6" fill="#fdfdfd" stroke="#dcdcdc" stroke-width="0.4"/>
<path d="M1430.8,908.8 l14,-4.8" stroke="#777" stroke-width="0.8" stroke-dasharray="1.6 0.8"/>
</g>
<g id="labels">
<text x="457.5" y="481.6" font-size="19.8" font-weight="bold" fill="#2b2424" text-anchor="start" textLength="53.5" lengthAdjust="spacingAndGlyphs" stroke="#2b2424" stroke-width="0.3">EDFA</text>
<text x="570" y="481.6" font-size="19.8" font-weight="bold" fill="#2b2424" text-anchor="start" textLength="32" lengthAdjust="spacingAndGlyphs" stroke="#2b2424" stroke-width="0.3">OA</text>
<text x="667" y="481.6" font-size="19.8" font-weight="bold" fill="#2b2424" text-anchor="start" textLength="47.5" lengthAdjust="spacingAndGlyphs" stroke="#2b2424" stroke-width="0.3">WSS</text>
<text x="509" y="570.1" font-size="19.8" font-weight="bold" fill="#2b2424" text-anchor="start" textLength="52" lengthAdjust="spacingAndGlyphs" stroke="#2b2424" stroke-width="0.3">OSW</text>
<text x="605.5" y="571.1" font-size="19.8" font-weight="bold" fill="#2b2424" text-anchor="start" textLength="52" lengthAdjust="spacingAndGlyphs" stroke="#2b2424" stroke-width="0.3">OPM</text>
<text x="667.5" y="633.6" font-size="19.8" font-weight="bold" fill="#2b2424" text-anchor="start" textLength="50.5" lengthAdjust="spacingAndGlyphs" stroke="#2b2424" stroke-width="0.3">PLCS</text>
<text x="742.5" y="652.1" font-size="19.8" font-weight="bold" fill="#2b2424" text-anchor="start" textLength="119" lengthAdjust="spacingAndGlyphs" stroke="#2b2424" stroke-width="0.3">EDFA Array</text>
<text x="455.5" y="726.6" font-size="19.8" font-weight="bold" fill="#2b2424" text-anchor="start" textLength="54" lengthAdjust="spacingAndGlyphs" stroke="#2b2424" stroke-width="0.3">EDFA</text>
<text x="564" y="726.6" font-size="19.8" font-weight="bold" fill="#2b2424" text-anchor="start" textLength="43" lengthAdjust="spacingAndGlyphs" stroke="#2b2424" stroke-width="0.3">TDC</text>
<text x="622" y="756.1" font-size="19.8" font-weight="bold" fill="#2b2424" text-anchor="start" textLength="53" lengthAdjust="spacingAndGlyphs" stroke="#2b2424" stroke-width="0.3">AWG</text>
<text x="954.5" y="250.1" font-size="19.8" font-weight="bold" fill="#2b2424" text-anchor="start" textLength="54.5" lengthAdjust="spacingAndGlyphs" stroke="#2b2424" stroke-width="0.3">EDFA</text>
<text x="1262.5" y="250.1" font-size="19.8" font-weight="bold" fill="#2b2424" text-anchor="start" textLength="54.5" lengthAdjust="spacingAndGlyphs" stroke="#2b2424" stroke-width="0.3">EDFA</text>
<text x="1052.5" y="309.6" font-size="19.8" font-weight="bold" fill="#2b2424" text-anchor="start" textLength="51.5" lengthAdjust="spacingAndGlyphs" stroke="#2b2424" stroke-width="0.3">OSW</text>
<text x="969" y="343.6" font-size="19.8" font-weight="bold" fill="#2b2424" text-anchor="start" textLength="43" lengthAdjust="spacingAndGlyphs" stroke="#2b2424" stroke-width="0.3">TDC</text>
<text x="1267" y="345.1" font-size="19.8" font-weight="bold" fill="#2b2424" text-anchor="start" textLength="32" lengthAdjust="spacingAndGlyphs" stroke="#2b2424" stroke-width="0.3">OA</text>
<text x="1055.5" y="386.6" font-size="19.8" font-weight="bold" fill="#2b2424" text-anchor="start" textLength="52" lengthAdjust="spacingAndGlyphs" stroke="#2b2424" stroke-width="0.3">OPM</text>
<text x="900" y="415.1" font-size="19.8" font-weight="bold" fill="#2b2424" text-anchor="start" textLength="54.5" lengthAdjust="spacingAndGlyphs" stroke="#2b2424" stroke-width="0.3">AWG</text>
<text x="1084" y="440.6" font-size="19.8" font-weight="bold" fill="#2b2424" text-anchor="start" textLength="50.5" lengthAdjust="spacingAndGlyphs" stroke="#2b2424" stroke-width="0.3">PLCS</text>
<text x="1275" y="435.1" font-size="19.8" font-weight="bold" fill="#2b2424" text-anchor="start" textLength="47.5" lengthAdjust="spacingAndGlyphs" stroke="#2b2424" stroke-width="0.3">WSS</text>
<text x="1070" y="504.6" font-size="19.8" font-weight="bold" fill="#2b2424" text-anchor="start" textLength="119" lengthAdjust="spacingAndGlyphs" stroke="#2b2424" stroke-width="0.3">EDFA Array</text>
<text x="1435.7" y="481.8" font-size="19.8" font-weight="bold" fill="#2b2424" text-anchor="start" textLength="47.3" lengthAdjust="spacingAndGlyphs" stroke="#2b2424" stroke-width="0.3">WSS</text>
<text x="1539.3" y="481.8" font-size="19.8" font-weight="bold" fill="#2b2424" text-anchor="start" textLength="32.3" lengthAdjust="spacingAndGlyphs" stroke="#2b2424" stroke-width="0.3">OA</text>
<text x="1645.2" y="481.8" font-size="19.8" font-weight="bold" fill="#2b2424" text-anchor="start" textLength="54" lengthAdjust="spacingAndGlyphs" stroke="#2b2424" stroke-width="0.3">EDFA</text>
<text x="1484.7" y="571.0" font-size="19.8" font-weight="bold" fill="#2b2424" text-anchor="start" textLength="52.4" lengthAdjust="spacingAndGlyphs" stroke="#2b2424" stroke-width="0.3">OPM</text>
<text x="1580.1" y="569.8000000000001" font-size="19.8" font-weight="bold" fill="#2b2424" text-anchor="start" textLength="52.8" lengthAdjust="spacingAndGlyphs" stroke="#2b2424" stroke-width="0.3">OSW</text>
<text x="1424.6" y="633.4" font-size="19.8" font-weight="bold" fill="#2b2424" text-anchor="start" textLength="50.1" lengthAdjust="spacingAndGlyphs" stroke="#2b2424" stroke-width="0.3">PLCS</text>
<text x="1279.2" y="647.6" font-size="19.8" font-weight="bold" fill="#2b2424" text-anchor="start" textLength="118.3" lengthAdjust="spacingAndGlyphs" stroke="#2b2424" stroke-width="0.3">EDFA Array</text>
<text x="1535.7" y="726.9" font-size="19.8" font-weight="bold" fill="#2b2424" text-anchor="start" textLength="43.3" lengthAdjust="spacingAndGlyphs" stroke="#2b2424" stroke-width="0.3">TDC</text>
<text x="1647.3" y="726.9" font-size="19.8" font-weight="bold" fill="#2b2424" text-anchor="start" textLength="53.6" lengthAdjust="spacingAndGlyphs" stroke="#2b2424" stroke-width="0.3">EDFA</text>
<text x="1492.7" y="778.7" font-size="19.8" font-weight="bold" fill="#2b2424" text-anchor="start" textLength="53" lengthAdjust="spacingAndGlyphs" stroke="#2b2424" stroke-width="0.3">AWG</text>
<text x="816.3" y="834.4" font-size="19.8" font-weight="bold" fill="#2b2424" text-anchor="start" textLength="46.7" lengthAdjust="spacingAndGlyphs" stroke="#2b2424" stroke-width="0.3">WSS</text>
<text x="959.5" y="768.6" font-size="19.8" font-weight="bold" fill="#2b2424" text-anchor="start" textLength="118" lengthAdjust="spacingAndGlyphs" stroke="#2b2424" stroke-width="0.3">EDFA Array</text>
<text x="1004.5" y="830.1" font-size="19.8" font-weight="bold" fill="#2b2424" text-anchor="start" textLength="50" lengthAdjust="spacingAndGlyphs" stroke="#2b2424" stroke-width="0.3">PLCS</text>
<text x="1175" y="855.6" font-size="19.8" font-weight="bold" fill="#2b2424" text-anchor="start" textLength="54.5" lengthAdjust="spacingAndGlyphs" stroke="#2b2424" stroke-width="0.3">AWG</text>
<text x="928" y="882.6" font-size="19.8" font-weight="bold" fill="#2b2424" text-anchor="start" textLength="51.5" lengthAdjust="spacingAndGlyphs" stroke="#2b2424" stroke-width="0.3">OPM</text>
<text x="838.8" y="924.4" font-size="19.8" font-weight="bold" fill="#2b2424" text-anchor="start" textLength="31.7" lengthAdjust="spacingAndGlyphs" stroke="#2b2424" stroke-width="0.3">OA</text>
<text x="1127.5" y="926.9" font-size="19.8" font-weight="bold" fill="#2b2424" text-anchor="start" textLength="42.5" lengthAdjust="spacingAndGlyphs" stroke="#2b2424" stroke-width="0.3">TDC</text>
<text x="924.5" y="969.4" font-size="19.8" font-weight="bold" fill="#2b2424" text-anchor="start" textLength="51.8" lengthAdjust="spacingAndGlyphs" stroke="#2b2424" stroke-width="0.3">OSW</text>
<text x="822.5" y="1020.6" font-size="19.8" font-weight="bold" fill="#2b2424" text-anchor="start" textLength="54.3" lengthAdjust="spacingAndGlyphs" stroke="#2b2424" stroke-width="0.3">EDFA</text>
<text x="1125.8" y="1020.6" font-size="19.8" font-weight="bold" fill="#2b2424" text-anchor="start" textLength="53.7" lengthAdjust="spacingAndGlyphs" stroke="#2b2424" stroke-width="0.3">EDFA</text>
<text x="730" y="412.4" font-size="17.3" font-weight="bold" fill="#2b2424" text-anchor="start" textLength="111" lengthAdjust="spacingAndGlyphs" stroke="#2b2424" stroke-width="0.25">Transponder</text>
<text x="673.5" y="923.6" font-size="17.3" font-weight="bold" fill="#2b2424" text-anchor="start" textLength="112" lengthAdjust="spacingAndGlyphs" stroke="#2b2424" stroke-width="0.25">Transponder</text>
<text x="1260.3" y="852.5" font-size="17.3" font-weight="bold" fill="#2b2424" text-anchor="start" textLength="110.3" lengthAdjust="spacingAndGlyphs" stroke="#2b2424" stroke-width="0.25">Transponder</text>
<text x="1360.6" y="949.9" font-size="17.3" font-weight="bold" fill="#2b2424" text-anchor="start" textLength="111.4" lengthAdjust="spacingAndGlyphs" stroke="#2b2424" stroke-width="0.25">Transponder</text>
</g>
</svg>
</body></html>
